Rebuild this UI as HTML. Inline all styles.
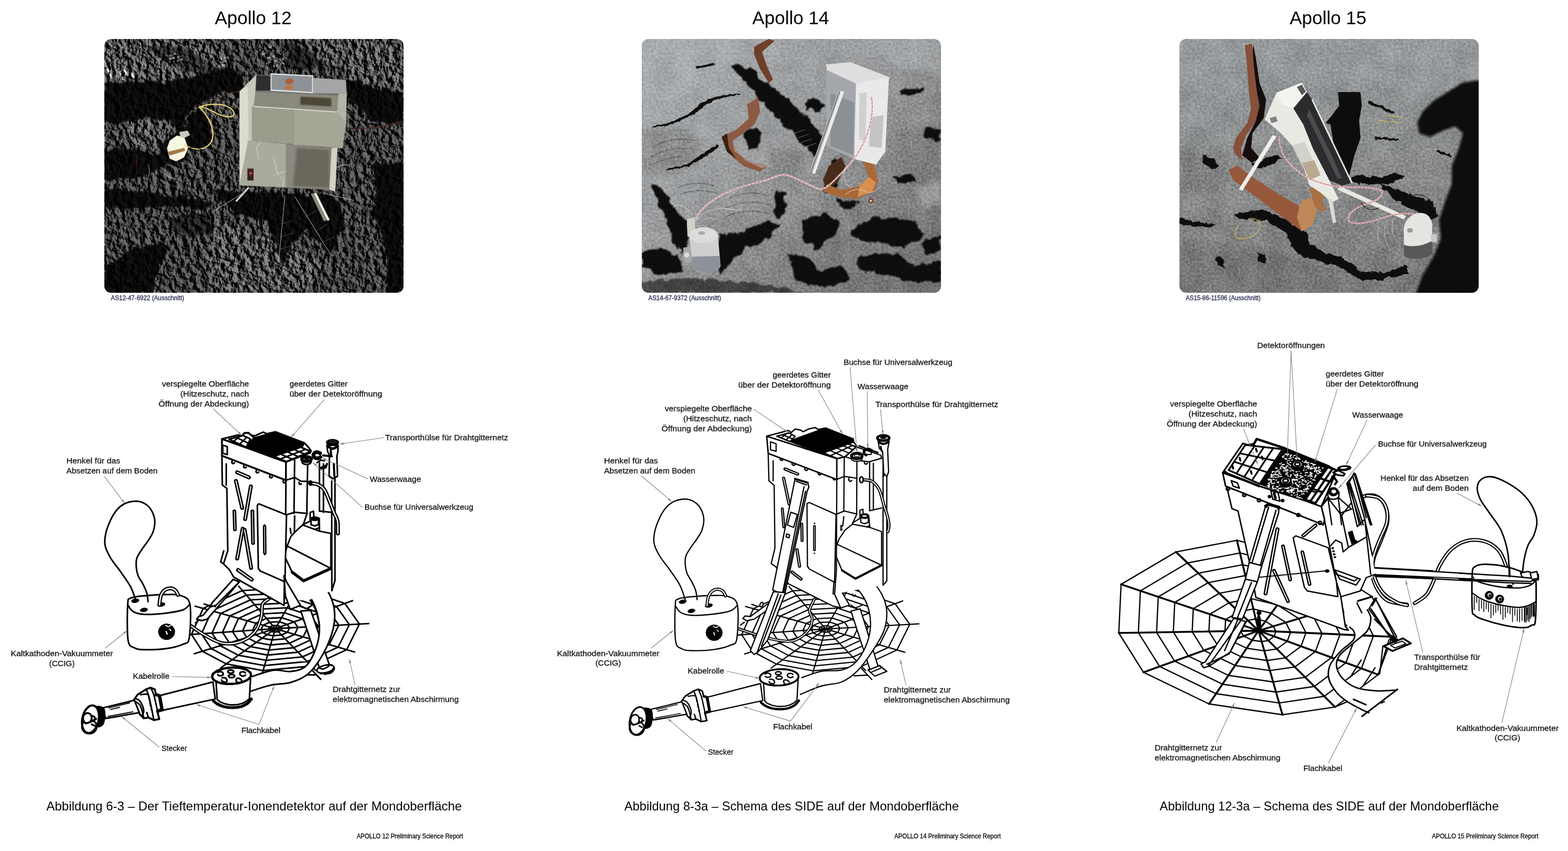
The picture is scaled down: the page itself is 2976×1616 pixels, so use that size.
<!DOCTYPE html>
<html lang="de"><head><meta charset="utf-8"><title>SIDE – Apollo 12, 14, 15</title>
<style>
html,body{margin:0;padding:0;background:#fff;}
body{width:2976px;height:1616px;overflow:hidden;font-family:"Liberation Sans",sans-serif;}
svg{display:block;}
svg text{font-family:"Liberation Sans",sans-serif;}
</style></head><body>
<svg width="2976" height="1616" viewBox="0 0 2976 1616">
<rect width="2976" height="1616" fill="#fff"/>
<defs>
<filter id="soilA" x="0" y="0" width="100%" height="100%" color-interpolation-filters="sRGB">
  <feTurbulence type="fractalNoise" baseFrequency="0.085" numOctaves="4" seed="7" result="n1"/>
  <feDiffuseLighting in="n1" surfaceScale="5.5" diffuseConstant="1.2" lighting-color="#ffffff" result="l"><feDistantLight azimuth="160" elevation="26"/></feDiffuseLighting>
  <feColorMatrix in="l" type="matrix" values="1.15 0 0 0 -0.06  1.15 0 0 0 -0.06  1.15 0 0 0 -0.06  0 0 0 0 1"/>
</filter>
<filter id="soilB" x="0" y="0" width="100%" height="100%" color-interpolation-filters="sRGB">
  <feTurbulence type="fractalNoise" baseFrequency="0.22" numOctaves="2" seed="23" result="n1"/>
  <feColorMatrix in="n1" type="matrix" values="0.3 0 0 0 0.35  0.3 0 0 0 0.35  0.3 0 0 0 0.35  0 0 0 0 1" result="g1"/>
  <feTurbulence type="fractalNoise" baseFrequency="0.025" numOctaves="3" seed="5" result="n2"/>
  <feColorMatrix in="n2" type="matrix" values="0 0.14 0 0 0.43  0 0.14 0 0 0.43  0 0.14 0 0 0.43  0 0 0 0 1" result="g2"/>
  <feBlend in="g1" in2="g2" mode="overlay" result="b"/>
  <feGaussianBlur in="b" stdDeviation="0.7"/>
</filter>
<filter id="bl3" x="-10%" y="-10%" width="120%" height="120%"><feGaussianBlur stdDeviation="3"/></filter>
<filter id="bl6" x="-10%" y="-10%" width="120%" height="120%"><feGaussianBlur stdDeviation="6"/></filter>
<filter id="bl12" x="-20%" y="-20%" width="140%" height="140%"><feGaussianBlur stdDeviation="12"/></filter>
<filter id="bl1" x="-10%" y="-10%" width="120%" height="120%"><feGaussianBlur stdDeviation="1.2"/></filter>
<clipPath id="pc1"><rect x="198" y="74" width="568" height="482" rx="13"/></clipPath>
<clipPath id="pc2"><rect x="1218" y="74" width="568" height="482" rx="13"/></clipPath>
<clipPath id="pc3"><rect x="2238.5" y="74" width="568" height="482" rx="13"/></clipPath>
<filter id="rough" x="-5%" y="-5%" width="110%" height="110%">
  <feTurbulence type="fractalNoise" baseFrequency="0.02" numOctaves="3" seed="3" result="t"/>
  <feDisplacementMap in="SourceGraphic" in2="t" scale="45" xChannelSelector="R" yChannelSelector="G" result="d"/>
  <feGaussianBlur in="d" stdDeviation="2.5"/>
</filter>
<filter id="rough2" x="-5%" y="-5%" width="110%" height="110%">
  <feTurbulence type="fractalNoise" baseFrequency="0.03" numOctaves="3" seed="9" result="t"/>
  <feDisplacementMap in="SourceGraphic" in2="t" scale="30" xChannelSelector="R" yChannelSelector="G" result="d"/>
  <feGaussianBlur in="d" stdDeviation="1.5"/>
</filter>
<filter id="rough3" x="-5%" y="-5%" width="110%" height="110%">
  <feTurbulence type="fractalNoise" baseFrequency="0.04" numOctaves="2" seed="5" result="t"/>
  <feDisplacementMap in="SourceGraphic" in2="t" scale="14" xChannelSelector="R" yChannelSelector="G" result="d"/>
  <feGaussianBlur in="d" stdDeviation="1.2"/>
</filter>
</defs>

<g clip-path="url(#pc1)" style="isolation:isolate"><g transform="translate(198,74) scale(0.34453)">
<rect width="1649" height="1399" fill="#363636"/>
<!-- lighter soil zones -->
<g filter="url(#bl12)" fill="#454545">
<polygon points="0,0 560,0 700,120 640,160 480,210 330,235 180,222 0,240"/>
<polygon points="1100,0 1649,0 1649,280 1500,260 1340,220 1330,160 1150,120"/>
<polygon points="150,450 340,440 360,520 330,580 200,610 100,560"/>
<polygon points="600,1000 1000,1100 1200,1250 1100,1399 600,1399 560,1200"/>
</g>
<!-- shadows -->
<g filter="url(#rough)" fill="#060606" opacity="0.82">
<polygon points="0,245 190,228 350,242 500,205 660,162 720,170 760,220 760,300 640,292 560,340 500,362 430,480 330,440 180,440 60,470 0,450"/>
<polygon points="430,480 520,380 560,420 600,520 560,600 470,610 440,680 330,690 300,640 340,560"/>
<polygon points="0,600 150,612 300,642 340,702 200,762 0,782"/>
<polygon points="0,830 293,848 505,880 600,910 557,940 293,925 0,935"/>
<polygon points="0,1245 160,1160 320,1120 350,1160 295,1265 270,1399 0,1399"/>
<polygon points="1338,224 1527,272 1649,293 1649,451 1580,477 1475,451 1338,335"/>
<polygon points="1475,685 1649,685 1649,1399 1553,1399 1553,1213 1527,1054 1475,949 1500,842"/>
<polygon points="600,830 1250,860 1300,900 1320,1030 1240,1190 1106,1054 974,1239 900,1001 700,949"/>
<polygon points="230,40 420,30 560,120 640,170 560,200 420,150 300,110" opacity="0.55"/>
<polygon points="1000,20 1150,60 1200,150 1060,180 1010,120" opacity="0.6"/>
<polygon points="350,980 560,960 620,1040 500,1090 380,1060" opacity="0.6"/>
</g>
<!-- footprints -->
<g stroke="#9a9a9a" stroke-width="9" stroke-linecap="round" opacity="0.8">
<path d="M10,150L40,215M40,160L75,222M75,165L105,225M110,170L135,222M140,175L165,215M0,130L20,150"/>
</g>
<g stroke="#777" stroke-width="6" stroke-linecap="round" opacity="0.8">
<path d="M600,125L660,105M610,140L670,120M620,155L680,135M860,60L930,40M870,85L950,60M880,110L970,85M890,135L985,110M900,160L990,135M340,95L400,80M360,110L420,95M380,125L440,110"/>
</g>
</g><rect x="198" y="74" width="568" height="482" filter="url(#soilA)" style="mix-blend-mode:overlay"/><g transform="translate(198,74) scale(0.34453)">
<!-- ribbon cable right -->
<path d="M1330,492 C1450,500 1560,480 1649,452" stroke="#3a2626" stroke-width="7" fill="none"/>
<path d="M1400,492 C1480,495 1580,475 1649,447" stroke="#7a3a30" stroke-width="2" fill="none"/>
<!-- legs and struts -->
<path d="M792,822L728,892" stroke="#dcdccc" stroke-width="10" stroke-linecap="round"/>
<path d="M1150,850L1222,1000" stroke="#8a8a7a" stroke-width="26" stroke-linecap="butt"/>
<path d="M1162,850L1236,1000" stroke="#f4f8e8" stroke-width="12" stroke-linecap="butt"/>
<g stroke="#b5b5a8" stroke-width="3" fill="none">
<path d="M995,862L960,1232M1050,870L1245,1185M1205,850L1375,890M780,840L600,950"/>
</g>
<g stroke="#8a8a80" stroke-width="1.6" fill="none">
<path d="M975,1020L1040,1000M968,1090L1040,1070M962,1160L1030,1140M1110,980L1180,940M1160,1060L1230,1020M1200,1120L1270,1090M1280,700L1330,690L1350,730M1300,760L1380,840"/>
</g>
<!-- box -->
<polygon points="745,288 838,196 842,290 792,810 745,806" fill="#c8c8b8"/>
<polygon points="745,288 790,260 795,560 780,806 745,806" fill="#dcdcce"/>
<polygon points="838,196 1330,225 1336,300 1290,310 832,290" fill="#6e7072"/>
<polygon points="838,200 915,204 915,284 834,284" fill="#2e2e2e"/>
<polygon points="1150,214 1330,226 1334,300 1150,300" fill="#a4a6a6"/>
<polygon points="916,188 1150,200 1150,300 916,286" fill="#e0e0e0"/>
<polygon points="922,196 1144,207 1144,292 922,278" fill="#8c9296"/>
<ellipse cx="1020" cy="234" rx="24" ry="17" fill="#a8643c"/>
<ellipse cx="1018" cy="268" rx="24" ry="14" fill="#b87850"/>
<polygon points="832,290 1290,310 1290,402 822,372" fill="#8a8a7c"/>
<polygon points="1080,318 1250,326 1250,372 1080,362" fill="#4e4638" filter="url(#bl3)"/>
<polygon points="1290,300 1336,300 1332,462 1282,402" fill="#b4b4a6"/>
<polygon points="792,560 1252,600 1256,832 745,806" fill="#8a8a80"/>
<polygon points="792,560 1000,578 1000,818 745,806" fill="#aaaa9e"/>
<polygon points="1060,600 1240,610 1240,820 1040,810" fill="#6a665c" filter="url(#bl6)"/>
<polygon points="1252,600 1284,600 1272,842 1240,830" fill="#d2d2c4"/>
<polygon points="812,370 1282,400 1332,462 1312,602 812,562" fill="#9c9c8c"/>
<polygon points="1040,386 1282,400 1332,462 1312,602 1040,582" fill="#a6a696"/>
<path d="M822,372L1282,402" stroke="#d8d8cc" stroke-width="6"/>
<path d="M1040,386L1040,582" stroke="#8a8a7c" stroke-width="2"/>
<rect x="788" y="714" width="34" height="66" fill="#3a2222"/>
<circle cx="806" cy="740" r="8" fill="#d04030"/>
<!-- curly white wires -->
<g stroke="#e8e8e0" stroke-width="2.6" fill="none" stroke-linecap="round">
<path d="M860,565 C850,590 830,600 840,615 C850,640 835,650 855,660"/>
<path d="M930,660 C950,690 940,720 960,750 C980,780 990,760 985,800 C980,830 975,850 985,870"/>
<path d="M940,750 C960,730 980,745 1000,725"/>
<path d="M1270,720 C1290,700 1310,690 1340,695"/>
</g>
<!-- CCIG -->
<polygon points="345,602 360,560 400,532 440,540 462,600 440,652 400,676 360,660" fill="#f6f6e2"/>
<polygon points="412,512 460,505 472,530 440,546 420,540" fill="#c8c8c0"/>
<polygon points="350,622 440,600 446,616 360,642" fill="#a07848"/>
<!-- cables -->
<path d="M522,376 C600,330 680,300 745,286" stroke="#5a4030" stroke-width="4" fill="none"/>
<path d="M522,376 C580,352 680,350 712,400 C730,440 660,436 600,400 C570,384 540,372 522,376 C560,410 600,470 598,530 C596,590 540,620 480,600 C460,596 450,590 440,585" stroke="#f2dc78" stroke-width="6.5" fill="none" stroke-linecap="round"/>
<path d="M240,692 C252,720 250,745 240,765 M310,720 C330,750 370,768 400,772" stroke="#ddd" stroke-width="2.4" fill="none"/>
<path d="M186,640 C176,680 174,720 178,745" stroke="#8a2a18" stroke-width="2.4" fill="none"/>
<path d="M460,600 C520,590 580,620 590,680 C595,740 520,790 440,790 M330,690 C400,680 440,660 470,630" stroke="#0a0a0a" stroke-width="3" fill="none"/>
</g></g>

<g clip-path="url(#pc2)" style="isolation:isolate"><g transform="translate(1218,74) scale(0.34453)">
<linearGradient id="p2g" gradientUnits="userSpaceOnUse" x1="200" y1="0" x2="1300" y2="1399"><stop offset="0" stop-color="#a8abad"/><stop offset="0.45" stop-color="#989a9c"/><stop offset="0.75" stop-color="#848484"/><stop offset="1" stop-color="#747474"/></linearGradient>
<rect width="1649" height="1399" fill="url(#p2g)"/>
<g filter="url(#bl12)" fill="#707070" opacity="0.35">
<polygon points="0,500 200,480 330,560 300,700 150,760 0,740"/>
<polygon points="700,600 900,640 860,760 700,740"/>
<polygon points="1400,500 1649,480 1649,760 1450,720"/>
</g>
<g filter="url(#bl12)" fill="#a8abad" opacity="0.6">
<polygon points="0,0 500,0 450,200 200,330 0,300"/>
<polygon points="1200,0 1649,0 1649,200 1400,150"/>
<polygon points="1500,820 1649,780 1649,900 1560,940"/>
</g>
<!-- shadows -->
<g filter="url(#rough)" fill="#0b0b0b">
<polygon points="490,145 600,150 640,205 720,260 800,330 900,420 960,490 1010,545 1005,600 950,650 880,570 800,490 700,390 620,295 540,205"/>
<polygon points="900,350 960,325 1005,365 960,400 905,392"/>
<polygon points="50,800 110,830 160,900 200,960 250,1000 262,1130 222,1185 170,1105 140,1005 90,905"/>
<polygon points="1012,760 1070,650 1110,680 1090,780 1050,850 1000,840"/>
<polygon points="430,1080 560,1060 700,1000 762,1020 700,1100 560,1160 470,1250 430,1300 400,1200"/>
<polygon points="730,830 800,850 790,960 760,1000 730,950"/>
<polygon points="880,1000 1000,960 1100,1020 1040,1100 960,1160 880,1100"/>
<polygon points="1150,1050 1300,982 1500,1000 1560,1080 1450,1150 1300,1120 1200,1112"/>
<polygon points="800,1180 900,1200 1000,1280 1100,1250 1150,1320 1000,1380 850,1330"/>
<polygon points="1180,1200 1400,1180 1500,1250 1649,1220 1649,1330 1500,1340 1350,1300 1200,1280"/>
<polygon points="0,1180 100,1150 200,1200 230,1280 100,1300 0,1262"/>
<polygon points="0,1335 300,1322 600,1342 900,1399 0,1399" opacity="0.6"/>
<polygon points="1420,282 1500,262 1560,280 1500,310 1432,310"/>
<polygon points="1560,490 1649,500 1649,560 1560,540"/>
<polygon points="1380,760 1480,742 1520,780 1420,800"/>
<polygon points="560,520 620,480 660,520 640,600 590,610"/>
<polygon points="1080,880 1200,900 1180,940 1090,920"/>
<polygon points="1540,1120 1649,1080 1649,1160 1560,1180"/>
</g>
<g filter="url(#rough3)" fill="#101010"><polygon points="130,716 250,694 330,634 420,580 428,592 350,648 262,700 150,722"/><polygon points="60,482 150,464 260,412 330,352 400,320 540,298 540,304 420,330 350,366 282,418 170,470 70,488"/><polygon points="300,152 400,134 404,144 306,164"/></g>
<!-- footprint ridges -->
<g stroke="#5e5e5e" stroke-width="5" fill="none" opacity="0.7" filter="url(#bl1)">
<path d="M60,600 C120,560 200,540 290,560 M50,650 C120,610 200,590 300,610 M40,700 C100,670 160,650 220,650 M200,820 C260,790 330,790 400,810 M210,860 C270,830 340,830 420,850 M480,880 C560,840 640,840 700,870 M470,930 C560,890 640,890 720,920 M460,980 C560,940 640,940 720,970"/>
</g>
</g>
<rect x="1218" y="74" width="568" height="482" filter="url(#soilB)" style="mix-blend-mode:overlay"/>
<g transform="translate(1218,74) scale(0.34453)">
<!-- kapton ribbons -->
<polygon points="620,42 700,0 732,10 662,72 690,150 722,222 700,242 650,162 618,82" fill="#6e4028"/>
<polygon points="580,362 640,320 652,400 622,470 560,520 500,560 512,620 600,680 692,700 650,732 560,700 470,622 440,540 520,500 590,440" fill="#8c5a42"/>
<polygon points="500,560 512,620 600,680 692,700 660,712 570,670 520,610" fill="#b08878"/>
<polygon points="440,540 470,520 480,600 520,660 470,622" fill="#3a2010"/>
<polygon points="1030,700 1100,650 1122,700 1080,790 1020,832 1000,780" fill="#4a2a18"/>
<polygon points="1180,600 1232,620 1282,700 1302,780 1280,842 1180,882 1090,872 1000,842 1020,800 1100,832 1200,812 1250,760 1220,680" fill="#a86838"/>
<polygon points="1200,812 1250,760 1290,790 1270,840 1190,870" fill="#d89050"/>
<!-- box -->
<polygon points="1015,140 1150,128 1362,210 1240,242 1180,246 1020,172" fill="#dedede"/>
<polygon points="1015,170 1180,246 1170,662 1020,592" fill="#a4a8ac"/>
<polygon points="1040,300 1170,350 1165,640 1040,590" fill="#8a9094"/>
<polygon points="1180,246 1362,210 1342,622 1290,692 1170,662" fill="#e9e9e9"/>
<polygon points="1262,430 1332,420 1322,600 1252,592" fill="#c4c4c4"/>
<polygon points="1200,300 1240,294 1232,560 1196,556" fill="#d0d0d0"/>
<polygon points="1085,282 1115,290 955,742 922,736" fill="#b4b4b4"/>
<polygon points="1098,286 1115,290 955,742 940,740" fill="#ececec"/>
<path d="M930,740L1090,290" stroke="#555" stroke-width="3"/>
<!-- antenna wires in shadow -->
<g stroke="#9a9a9a" stroke-width="2"><path d="M840,520L900,500M860,545L920,525M880,570L940,550M900,595L960,575M1000,640L1060,620"/></g>
<!-- cable bundle -->
<path d="M292,1000 C310,950 380,890 440,860 C520,820 600,800 660,785 C720,770 760,740 800,750 C860,765 920,810 980,828 C1020,830 1060,780 1100,740 C1160,680 1220,600 1250,500 C1270,430 1275,370 1265,320" stroke="#e6ccd2" stroke-width="9" fill="none" stroke-linecap="round"/>
<path d="M292,1000 C310,950 380,890 440,860 C520,820 600,800 660,785 C720,770 760,740 800,750 C860,765 920,810 980,828 C1020,830 1060,780 1100,740 C1160,680 1220,600 1250,500 C1270,430 1275,370 1265,320" stroke="#c04858" stroke-width="2.5" fill="none" stroke-dasharray="14 8"/>
<g stroke="#e8e8e8" stroke-width="2.4" fill="none">
<path d="M170,930 C200,900 240,920 280,970 M300,1000 C340,950 400,930 460,935 C500,940 530,950 550,935 M330,1010 C350,980 380,980 400,1000 M1120,860 C1150,830 1200,820 1230,840 C1260,860 1300,830 1320,810 M1130,700 C1100,740 1110,790 1150,820"/>
</g>
<circle cx="1262" cy="892" r="14" fill="#7a3a30"/><circle cx="1262" cy="892" r="7" fill="#c8c0b0"/>
<!-- CCIG -->
<polygon points="248,990 292,985 296,1085 252,1090" fill="#d0d0c8"/>
<polygon points="228,1150 272,1146 272,1232 232,1234" fill="#a8a8a8"/>
<circle cx="248" cy="1190" r="14" fill="#ddd"/>
<path d="M262,1092 C262,1040 420,1030 420,1085 L434,1250 C430,1292 290,1296 282,1258 Z" fill="#cfcfcf"/>
<path d="M276,1200 L430,1196 L434,1250 C430,1292 290,1296 282,1258 Z" fill="#8c929a"/>
<ellipse cx="341" cy="1082" rx="79" ry="44" fill="#dcdcdc"/>
<ellipse cx="330" cy="1070" rx="20" ry="10" fill="#aaa"/>
</g></g>

<g clip-path="url(#pc3)" style="isolation:isolate"><g transform="translate(2238.5,74) scale(0.34453)">
<linearGradient id="p3g" gradientUnits="userSpaceOnUse" x1="600" y1="0" x2="800" y2="1399"><stop offset="0" stop-color="#969a9c"/><stop offset="0.5" stop-color="#8a8c8d"/><stop offset="1" stop-color="#7a7a7a"/></linearGradient>
<rect width="1649" height="1399" fill="url(#p3g)"/>
<g filter="url(#bl12)" opacity="0.6">
<polygon points="0,0 300,0 250,250 0,300" fill="#9a9ea0"/>
<polygon points="900,0 1649,0 1649,260 1300,300 1000,200" fill="#9a9ea0"/>
<polygon points="0,1100 500,1150 900,1330 900,1399 0,1399" fill="#727272"/>
<polygon points="0,600 250,620 300,800 0,900" fill="#7c7c7c"/>
</g>
<g filter="url(#rough2)" fill="#0b0b0b">
<polygon points="0,992 80,1002 200,1022 180,1040 60,1030 0,1020"/>
<polygon points="300,962 450,942 560,982 700,1062 720,1132 800,1182 900,1202 1000,1282 1100,1292 1250,1252 1262,1290 1100,1332 980,1322 880,1252 780,1232 680,1202 620,1142 580,1062 480,1002 320,990"/>
<polygon points="950,752 1100,762 1200,740 1242,760 1150,800 1050,802 960,790"/>
<polygon points="1100,800 1200,830 1300,870 1400,900 1422,980 1380,1002 1300,952 1180,880"/>
<polygon points="120,642 180,650 222,700 180,722 130,680"/>
<polygon points="400,690 520,640 570,660 450,720"/>
<polygon points="1040,345 1120,372 1180,402 1170,412 1110,385 1040,358"/>
<polygon points="1080,540 1200,548 1200,560 1080,552"/>
<polygon points="1420,612 1500,640 1496,652 1420,626"/>
<polygon points="200,1200 240,1210 250,1260 210,1250"/>
<polygon points="430,1180 470,1190 480,1240 440,1230"/>
</g>
</g>
<rect x="2238" y="74" width="569" height="482" filter="url(#soilB)" style="mix-blend-mode:overlay"/>
<g transform="translate(2238.5,74) scale(0.34453)">
<!-- kapton -->
<g transform="translate(236.6,162.5) scale(0.6846)">
<polygon points="250,-190 270,-80 300,120 352,250 332,400 242,520 232,640 300,720 240,760 160,700 200,560 270,420 290,300 250,150 240,20 235,-100" fill="#141008" filter="url(#bl1)"/>
<polygon points="180,-185 240,-200 250,-60 262,60 280,200 300,300 270,420 190,540 150,640 160,740 110,700 85,640 110,560 200,440 230,330 215,200 205,80 195,-60" fill="#86503a"/>
<polygon points="50,820 120,780 250,880 450,1010 620,1110 642,1060 722,1040 762,1150 722,1262 640,1312 560,1252 400,1132 200,982 90,902" fill="#96583a"/>
<polygon points="620,1110 642,1060 722,1040 762,1150 722,1262 640,1312 600,1200" fill="#c08858"/>
<polygon points="700,960 800,940 830,1000 800,1080 840,1130 800,1160 740,1100 720,1020" fill="#a87044"/>
</g>
<!-- box -->
<g transform="translate(236.6,162.5) scale(0.6846)">
<polygon points="930,190 1110,190 1122,300 1100,420 1112,560 1062,700 1022,862 960,832 900,640 870,450 830,440 880,380 940,300" fill="#0b0b0b" filter="url(#bl3)"/>
<polygon points="680,190 722,250 802,430 902,640 1012,850 1042,922 962,942 862,902 732,652 652,452 572,322" fill="#2c2c2e"/>
<polygon points="700,330 790,520 880,700 960,880 930,892 850,730 760,540 680,380" fill="#4c4c50"/>
<path d="M722,250 L1042,922" stroke="#e8e8e4" stroke-width="12"/>
<polygon points="340,410 435,195 640,115 680,190 570,320 650,450 730,650 860,900 935,1050 880,1080 790,1000 700,940 640,760 560,620 470,520" fill="#e9e9e4"/>
<polygon points="435,195 640,115 680,190 570,320 480,290" fill="#f3f3ef"/>
<polygon points="600,150 640,130 672,188 640,215" fill="#585858"/>
<polygon points="380,400 430,385 445,425 395,440" fill="#7c8488"/>
<polygon points="560,620 660,590 740,760 650,800" fill="#d2d2ca"/>
<polygon points="640,760 740,740 790,860 700,900" fill="#bca890"/>
<polygon points="405,535 435,548 160,985 132,972" fill="#efefeb"/>
<polygon points="925,975 948,948 1478,1188 1458,1216" fill="#e8e8e0"/>
<polygon points="850,1050 885,1046 915,1240 890,1246" fill="#dcdcd6"/>
</g>
<!-- cable bundle -->
<path d="M550,540 C545,600 580,670 640,720 C700,770 780,800 860,812 C940,822 1040,810 1100,830 C1140,850 1100,890 1040,905 C980,925 920,960 932,1000 C950,1030 1040,1015 1100,992 C1160,970 1230,955 1290,965" stroke="#e4c0c6" stroke-width="8" fill="none" stroke-linecap="round"/>
<path d="M550,540 C545,600 580,670 640,720 C700,770 780,800 860,812 C940,822 1040,810 1100,830 C1140,850 1100,890 1040,905 C980,925 920,960 932,1000 C950,1030 1040,1015 1100,992 C1160,970 1230,955 1290,965" stroke="#b84050" stroke-width="2.4" fill="none" stroke-dasharray="12 8"/>
<g stroke="#c8d0e0" stroke-width="2.2" fill="none">
<path d="M1140,1000 C1120,1060 1130,1120 1160,1160 M1180,990 C1160,1050 1180,1110 1220,1130 M1100,1040 C1080,1080 1100,1120 1130,1150"/>
</g>
<g stroke="#101010" stroke-width="3" fill="none">
<path d="M1250,880 C1300,840 1380,860 1400,920 M1000,900 C1020,940 1060,950 1100,930"/>
</g>
<!-- CCIG -->
<path d="M1236,1060 C1230,1000 1290,950 1340,960 C1380,965 1400,1010 1392,1060 L1396,1180 C1380,1215 1260,1225 1238,1195 Z" fill="#e4e4e0"/>
<path d="M1236,1135 C1280,1150 1350,1140 1394,1110 L1396,1180 C1380,1215 1260,1225 1238,1195 Z" fill="#585858"/>
<rect x="1385" y="1075" width="34" height="44" fill="#c8c8c8"/>
<ellipse cx="1270" cy="1055" rx="16" ry="12" fill="#9a9a9a"/>
<!-- yellow wires -->
<g stroke="#e6c63c" stroke-width="3.2" fill="none" stroke-linecap="round">
<path d="M380,992 C410,980 440,1000 446,1022 C452,1060 410,1095 340,1102 C300,1102 302,1062 322,1030"/>
<path d="M1100,448 C1140,452 1180,462 1220,458 M1140,420 C1170,424 1200,430 1230,432"/>
</g>
<!-- astronaut silhouette -->
<g filter="url(#bl6)"><polygon points="1660,225 1560,240 1480,290 1400,340 1340,400 1310,460 1322,520 1380,540 1460,502 1520,482 1562,520 1540,600 1500,700 1500,800 1462,900 1430,1000 1440,1100 1400,1200 1340,1300 1300,1410 1660,1410" fill="#080808"/></g>
</g></g>

<g stroke-linecap="round" stroke-linejoin="round">
<path d="M522.6,1193.8L699.8,1184.1M522.6,1193.8L672.9,1238.1M522.6,1193.8L598.5,1272.6M522.6,1193.8L496.7,1282.2M522.6,1193.8L419.2,1268.1M522.6,1193.8L368.8,1241.3M522.6,1193.8L345.8,1206.0M522.6,1193.8L370.4,1151.1M522.6,1193.8L453.2,1113.4M522.6,1193.8L571.6,1107.5M522.6,1193.8L669.0,1140.6M535.4,1193.1L533.4,1197.0L528.1,1199.5L520.7,1200.2L515.1,1199.2L511.5,1197.2L509.9,1194.7L511.6,1190.7L517.6,1188.0L526.1,1187.6L533.1,1190.0ZM549.7,1192.3L545.6,1200.6L534.2,1205.9L518.6,1207.3L506.8,1205.2L499.0,1201.1L495.5,1195.7L499.3,1187.3L512.0,1181.5L530.1,1180.6L545.0,1185.6ZM565.7,1191.4L559.2,1204.6L541.1,1213.0L516.3,1215.3L497.5,1211.9L485.2,1205.3L479.6,1196.8L485.6,1183.4L505.7,1174.3L534.5,1172.8L558.2,1180.9ZM584.8,1190.4L575.4,1209.4L549.3,1221.5L513.5,1224.8L486.3,1219.9L468.6,1210.5L460.5,1198.1L469.1,1178.8L498.2,1165.6L539.8,1163.5L574.0,1175.1ZM604.0,1189.3L591.6,1214.2L557.5,1230.0L510.7,1234.4L475.1,1227.9L451.9,1215.6L441.4,1199.4L452.7,1174.2L490.7,1156.9L545.1,1154.1L589.8,1169.3ZM623.2,1188.3L607.9,1219.0L565.7,1238.5L507.9,1244.0L463.9,1236.0L435.3,1220.7L422.3,1200.7L436.2,1169.6L483.2,1148.2L550.4,1144.8L605.7,1163.6ZM643.1,1187.2L624.8,1223.9L574.2,1247.4L505.0,1253.9L452.3,1244.3L418.0,1226.1L402.4,1202.1L419.1,1164.8L475.4,1139.1L555.9,1135.1L622.2,1157.6ZM663.1,1186.1L641.7,1228.9L582.8,1256.2L502.0,1263.9L440.6,1252.7L400.7,1231.4L382.5,1203.5L401.9,1160.0L467.6,1130.1L561.4,1125.4L638.6,1151.6ZM682.2,1185.0L658.0,1233.7L591.0,1264.8L499.2,1273.4L429.5,1260.7L384.0,1236.6L363.4,1204.8L385.5,1155.3L460.1,1121.4L566.7,1116.0L654.5,1145.9Z" fill="none" stroke="#000" stroke-width="2.90"/>
<path d="M361.5,1187.9C365.5,1190.6 375.3,1198.5 385.1,1204.0C394.9,1209.5 408.7,1218.5 420.5,1221.0C432.3,1223.4 445.3,1222.2 455.9,1218.6C466.5,1215.0 477.5,1207.2 484.2,1199.3C490.9,1191.3 493.6,1179.6 496.0,1171.0C498.3,1162.3 496.2,1152.9 498.3,1147.4C500.5,1141.9 507.2,1139.5 509.0,1137.9" fill="none" stroke="#000" stroke-width="7.00" />
<path d="M361.5,1187.9C365.5,1190.6 375.3,1198.5 385.1,1204.0C394.9,1209.5 408.7,1218.5 420.5,1221.0C432.3,1223.4 445.3,1222.2 455.9,1218.6C466.5,1215.0 477.5,1207.2 484.2,1199.3C490.9,1191.3 493.6,1179.6 496.0,1171.0C498.3,1162.3 496.2,1152.9 498.3,1147.4C500.5,1141.9 507.2,1139.5 509.0,1137.9" fill="none" stroke="#fff" stroke-width="2.20" />
<path d="M442.9,1100.2L385.1,1168.6L376.9,1171.0L373.3,1175.7L382.8,1178.5L393.4,1175.7L452.3,1107.3Z" fill="#fff" stroke="#000" stroke-width="3.00" />
<path d="M406.3,1148.6L408.7,1152.1" fill="none" stroke="#000" stroke-width="3.00" />
<path d="M387.5,1146.9L396.9,1150.2M371.0,1182.8L375.7,1179.2" fill="none" stroke="#000" stroke-width="3.00" />
<path d="M442.5,1100.3L402.4,1145.1L400.0,1152.2L409.4,1149.8L454.3,1105.0Z" fill="#fff" stroke="#000" stroke-width="3.00" />
<path d="M571.0,1160.2L606.3,1268.7L601.6,1273.4L608.7,1279.3L622.9,1276.9L633.5,1269.8L629.9,1262.8L625.2,1262.8L589.8,1159.0Z" fill="#fff" stroke="#000" stroke-width="3.00" />
<ellipse cx="617.7" cy="1270.3" rx="16.5" ry="7.1" fill="#fff" stroke="#000" stroke-width="3.00" transform="rotate(-12 617.7 1270.3)"/>
<path d="M606.3,1268.7C607.5,1268.9 610.5,1270.9 613.4,1270.3C616.4,1269.7 622.3,1266.0 624.0,1265.1" fill="none" stroke="#000" stroke-width="3.00" />
<path d="M585.1,1265.1L608.7,1289.9M574.5,1281.6L599.3,1281.6" fill="none" stroke="#000" stroke-width="3.00" />
<path d="M615.8,1279.3C617.7,1278.9 624.6,1278.5 627.6,1276.9C630.5,1275.3 632.5,1271.0 633.5,1269.8" fill="none" stroke="#000" stroke-width="5.00" />
<path d="M542.7,1104.7C545.8,1106.3 554.5,1109.0 561.5,1114.2C568.6,1119.3 578.8,1127.9 585.1,1135.4C591.4,1142.9 595.7,1149.1 599.3,1159.0C602.8,1168.8 606.3,1182.2 606.3,1194.4C606.3,1206.5 603.6,1220.3 599.3,1232.1C594.9,1243.9 588.3,1258.0 580.4,1265.1C572.5,1272.3 562.3,1273.8 552.1,1275.0C541.9,1276.3 531.3,1271.1 519.1,1272.7C506.9,1274.2 485.7,1282.5 479.0,1284.5L476.6,1312.3C482.9,1310.4 501.8,1303.7 514.4,1301.0C526.9,1298.2 540.3,1299.4 552.1,1295.8C563.9,1292.2 574.9,1288.3 585.1,1279.3C595.3,1270.2 605.6,1255.7 613.4,1241.5C621.3,1227.4 628.8,1208.1 632.3,1194.4C635.8,1180.6 635.8,1170.0 634.7,1159.0C633.5,1148.0 629.5,1137.0 625.2,1128.3C620.9,1119.7 613.8,1112.2 608.7,1107.1C603.6,1102.0 596.9,1099.2 594.6,1097.6Z" fill="#fff" stroke="none"/>
<path d="M542.7,1104.7C545.8,1106.3 554.5,1109.0 561.5,1114.2C568.6,1119.3 578.8,1127.9 585.1,1135.4C591.4,1142.9 595.7,1149.1 599.3,1159.0C602.8,1168.8 606.3,1182.2 606.3,1194.4C606.3,1206.5 603.6,1220.3 599.3,1232.1C594.9,1243.9 588.3,1258.0 580.4,1265.1C572.5,1272.3 562.3,1273.8 552.1,1275.0C541.9,1276.3 531.3,1271.1 519.1,1272.7C506.9,1274.2 485.7,1282.5 479.0,1284.5" fill="none" stroke="#000" stroke-width="3.00" />
<path d="M476.6,1312.3C482.9,1310.4 501.8,1303.7 514.4,1301.0C526.9,1298.2 540.3,1299.4 552.1,1295.8C563.9,1292.2 574.9,1288.3 585.1,1279.3C595.3,1270.2 605.6,1255.7 613.4,1241.5C621.3,1227.4 628.8,1208.1 632.3,1194.4C635.8,1180.6 635.8,1170.0 634.7,1159.0C633.5,1148.0 629.5,1137.0 625.2,1128.3C620.9,1119.7 613.8,1112.2 608.7,1107.1C603.6,1102.0 596.9,1099.2 594.6,1097.6" fill="none" stroke="#000" stroke-width="3.00" />
<path d="M543.9,1105.0C547.4,1106.2 558.0,1107.8 565.1,1112.1C572.2,1116.4 580.5,1123.1 586.3,1131.0C592.2,1138.8 597.2,1149.8 600.5,1159.3C603.8,1168.7 605.4,1182.9 606.4,1187.6" fill="none" stroke="#000" stroke-width="3.00" />
<path d="M542.7,877.2L588.7,860.0L590.3,856.0L599.3,860.7L627.6,869.0L629.9,913.8L629.9,1121.4L585.1,1140.0L542.7,1140.0Z" fill="#fff" stroke="none" stroke-width="2.60" />
<path d="M559.2,873.7L558.0,975.1M583.9,880.8L582.3,975.1M606.3,878.4L606.3,970.4M613.9,880.8L613.9,972.8M629.5,913.8L629.9,1121.4M635.8,909.1L635.8,1102.5M559.2,979.8L558.0,1055.3" fill="none" stroke="#000" stroke-width="3.00" />
<path d="M542.7,911.9L559.6,906.7M559.6,906.7L571.0,913.8L585.1,914.3M542.7,977.9L559.2,972.8L582.8,975.1M582.8,975.1L575.7,996.3M606.3,970.4L627.6,972.8M629.9,1121.4L635.8,1102.5" fill="none" stroke="#000" stroke-width="3.00" />
<path d="M567.4,916.1L568.6,919.7L572.1,919.0M550.9,1003.4L552.1,1012.9" fill="none" stroke="#000" stroke-width="3.00" />
<path d="M620.5,845.4L621.7,857.2L625.2,864.3L624.7,904.4L632.3,909.1L640.6,904.4L639.4,866.6L641.3,857.2L641.7,845.4Z" fill="#fff" stroke="#000" stroke-width="3.00" />
<ellipse cx="631.1" cy="840.2" rx="10.9" ry="5.2" fill="#000" stroke="#000" stroke-width="3.00"/>
<ellipse cx="631.1" cy="838.8" rx="6.1" ry="2.1" fill="#000" stroke="#555" stroke-width="1.00"/>
<path d="M622.9,847.7C624.2,848.4 628.2,852.0 631.1,852.0C634.1,852.0 639.0,848.4 640.6,847.7" fill="none" stroke="#000" stroke-width="5.00" />
<path d="M627.6,854.8L628.8,866.6M633.5,880.8L634.7,904.4M613.4,864.7L629.9,866.6M620.5,880.8L618.1,887.8L606.3,890.2" fill="none" stroke="#000" stroke-width="4.00" />
<path d="M607.5,860.7C606.5,860.3 603.5,858.4 601.6,858.4C599.8,858.4 597.5,859.4 596.4,860.7C595.3,862.0 594.7,864.7 595.0,866.1C595.3,867.6 596.6,868.8 598.1,869.4C599.6,870.1 602.3,870.4 604.0,870.2C605.7,869.9 607.5,868.2 608.2,867.8" fill="none" stroke="#000" stroke-width="7.00" />
<path d="M601.6,878.4L608.7,873.7L615.8,874.9M608.7,887.8L620.5,883.1" fill="none" stroke="#000" stroke-width="3.00" />
<path d="M572.9,871.8C573.0,873.0 572.3,877.2 573.8,878.9C575.3,880.6 578.9,881.9 581.6,881.9C584.3,881.9 588.3,880.6 589.8,878.9C591.4,877.2 590.6,873.0 590.8,871.8" fill="#fff" stroke="#000" stroke-width="3.00" />
<ellipse cx="581.8" cy="871.8" rx="9.0" ry="4.5" fill="#fff" stroke="#000" stroke-width="6.00"/>
<ellipse cx="581.8" cy="871.3" rx="3.8" ry="1.7" fill="#000" stroke="#000" stroke-width="1.00"/>
<path d="M588.7,917.3C591.2,917.8 599.5,918.2 604.0,920.4C608.5,922.6 612.2,925.1 615.8,930.3C619.3,935.5 622.3,944.5 625.2,951.5C628.2,958.6 630.9,966.5 633.5,972.8C636.0,979.0 639.3,982.6 640.6,989.3C641.8,996.0 641.1,1008.9 641.3,1012.9" fill="none" stroke="#000" stroke-width="7.50" />
<path d="M588.7,917.3C591.2,917.8 599.5,918.2 604.0,920.4C608.5,922.6 612.2,925.1 615.8,930.3C619.3,935.5 622.3,944.5 625.2,951.5C628.2,958.6 630.9,966.5 633.5,972.8C636.0,979.0 639.3,982.6 640.6,989.3C641.8,996.0 641.1,1008.9 641.3,1012.9" fill="none" stroke="#fff" stroke-width="2.40" />
<ellipse cx="589.4" cy="917.3" rx="3.3" ry="5.2" fill="#000" stroke="#000" stroke-width="1.00"/>
<path d="M574.5,996.3L588.7,989.7L588.7,973.2L595.0,970.9L595.7,982.7L605.9,984.1L606.3,1008.6L595.7,1011.9L575.7,1001.5Z" fill="#fff" stroke="#000" stroke-width="3.00" />
<path d="M590.3,985.7L590.3,996.3L596.9,998.7L604.5,996.3L604.5,985.7" fill="#fff" stroke="#000" stroke-width="3.00" />
<ellipse cx="597.4" cy="985.0" rx="7.1" ry="3.1" fill="#000" stroke="#000" stroke-width="3.00"/>
<path d="M575.7,1001.5L595.7,1005.8L606.3,1002.2M595.7,1005.8L595.7,1011.9" fill="none" stroke="#000" stroke-width="3.00" />
<path d="M574.5,996.8L561.5,1008.6L552.1,1018.8L545.0,1036.9L539.8,1055.3L554.5,1086.5L576.2,1103.0L628.0,1079.4L628.0,1012.9L606.3,1008.6Z" fill="#fff" stroke="#000" stroke-width="3.00" />
<path d="M545.0,1036.9L628.0,1079.4" fill="none" stroke="#000" stroke-width="3.00" />
<path d="M554.5,1086.5L576.2,1103.0L628.0,1079.4" fill="none" stroke="#000" stroke-width="5.50" />
<path d="M421.2,865.4L542.7,911.9L542.2,977.9L540.3,1055.3L539.1,1149.7L443.6,1095.9L435.3,1081.7L424.2,1070.7L432.3,1045.9L430.6,927.5L421.9,920.9Z" fill="#fff" stroke="#000" stroke-width="3.00" />
<path d="M429.4,880.8L429.4,920.9M424.7,1045.9L418.8,1067.1L424.2,1070.7" fill="none" stroke="#000" stroke-width="3.00" />
<path d="M450.2,896.8L472.4,906.7" fill="none" stroke="#000" stroke-width="7.50" />
<path d="M450.2,896.8L472.4,906.7" fill="none" stroke="#fff" stroke-width="1.90" />
<path d="M481.8,870.9L481.8,880.8" fill="none" stroke="#000" stroke-width="6.00" />
<path d="M481.8,870.9L481.8,880.8" fill="none" stroke="#fff" stroke-width="1.20" />
<path d="M447.8,913.3L459.6,964.5" fill="none" stroke="#000" stroke-width="7.50" />
<path d="M447.8,913.3L459.6,964.5" fill="none" stroke="#fff" stroke-width="1.90" />
<path d="M476.1,923.7L465.3,985.7" fill="none" stroke="#000" stroke-width="7.50" />
<path d="M476.1,923.7L465.3,985.7" fill="none" stroke="#fff" stroke-width="1.90" />
<path d="M444.8,970.9L445.9,1005.3" fill="none" stroke="#000" stroke-width="7.00" />
<path d="M444.8,970.9L445.9,1005.3" fill="none" stroke="#fff" stroke-width="1.40" />
<path d="M479.0,970.9L480.2,1031.3" fill="none" stroke="#000" stroke-width="7.00" />
<path d="M479.0,970.9L480.2,1031.3" fill="none" stroke="#fff" stroke-width="1.40" />
<path d="M460.6,1003.9L450.2,1060.5" fill="none" stroke="#000" stroke-width="7.50" />
<path d="M460.6,1003.9L450.2,1060.5" fill="none" stroke="#fff" stroke-width="1.90" />
<path d="M464.3,1006.3L476.6,1078.4" fill="none" stroke="#000" stroke-width="7.50" />
<path d="M464.3,1006.3L476.6,1078.4" fill="none" stroke="#fff" stroke-width="1.90" />
<path d="M451.8,1082.4L477.8,1100.6" fill="none" stroke="#000" stroke-width="7.50" />
<path d="M451.8,1082.4L477.8,1100.6" fill="none" stroke="#fff" stroke-width="1.90" />
<path d="M440.5,875.6C440.4,876.0 439.7,877.6 440.1,878.4C440.4,879.2 441.6,880.2 442.4,880.3C443.2,880.4 444.4,879.1 444.8,878.9" fill="none" stroke="#000" stroke-width="3.20" />
<path d="M462.9,883.8C462.9,884.3 462.1,885.9 462.5,886.7C462.8,887.4 464.0,888.5 464.8,888.5C465.6,888.6 466.8,887.4 467.2,887.1" fill="none" stroke="#000" stroke-width="3.20" />
<path d="M486.5,893.3C486.4,893.7 485.7,895.3 486.0,896.1C486.4,896.9 487.6,897.9 488.4,898.0C489.2,898.1 490.4,896.8 490.8,896.6" fill="none" stroke="#000" stroke-width="3.20" />
<path d="M512.5,902.7C512.4,903.2 511.7,904.7 512.0,905.5C512.3,906.3 513.6,907.3 514.4,907.4C515.1,907.5 516.3,906.2 516.7,906.0" fill="none" stroke="#000" stroke-width="3.20" />
<path d="M537.9,912.1C537.9,912.6 537.2,914.2 537.5,915.0C537.8,915.8 539.0,916.8 539.8,916.9C540.6,916.9 541.8,915.7 542.2,915.4" fill="none" stroke="#000" stroke-width="3.20" />
<path d="M488.4,959.5L491.2,956.7L543.8,977.9L540.8,1104.9L493.6,1084.1L490.3,1079.4Z" fill="#fff" stroke="#000" stroke-width="3.00" />
<path d="M502.1,999.9L502.6,1049.4" fill="none" stroke="#000" stroke-width="6.50" />
<path d="M502.1,999.9L502.6,1049.4" fill="none" stroke="#fff" stroke-width="1.20" />
<ellipse cx="502.1" cy="997.1" rx="1.2" ry="1.2" fill="#000" stroke="#000" stroke-width="1.00"/>
<ellipse cx="502.6" cy="1053.0" rx="1.2" ry="1.2" fill="#000" stroke="#000" stroke-width="1.00"/>
<path d="M539.2,1093.2L541.5,1131.0L551.0,1157.4L570.3,1149.4L543.9,1105.0Z" fill="#fff" stroke="#000" stroke-width="3.00" />
<path d="M573.4,1151.7C574.7,1152.4 578.6,1156.0 581.6,1155.7C584.7,1155.4 589.9,1150.8 591.5,1149.8" fill="none" stroke="#000" stroke-width="3.00" />
<path d="M421.2,833.6L542.7,877.2L542.7,911.9L421.2,865.4Z" fill="#fff" stroke="#000" stroke-width="3.40" />
<path d="M422.8,845.4L431.3,848.2L431.3,863.3L422.8,860.5Z" fill="#fff" stroke="#000" stroke-width="3.00" />
<path d="M421.2,833.6L451.8,826.0L458.9,828.4L463.6,822.3L471.4,821.8L476.1,826.0L483.2,827.7L499.7,820.6L506.1,823.7L522.6,820.1L577.6,841.1L585.1,848.9L590.3,856.0L588.7,860.0L542.7,877.2L517.2,868.5L467.2,849.6Z" fill="#fff" stroke="#000" stroke-width="3.20" />
<path d="M481.8,831.2L522.6,820.1L577.6,841.1L574.5,848.2L517.2,868.0L467.2,849.2L470.7,843.0Z" fill="#000" stroke="#000" stroke-width="2.00" />
<path d="M434.6,834.1L461.3,827.0L475.4,833.6L467.2,849.2Z" fill="#fff" stroke="#000" stroke-width="3.20" />
<path d="M447.8,830.5L471.2,841.4M443.6,837.8L455.4,828.4M455.4,843.0L468.4,830.3" fill="none" stroke="#000" stroke-width="3.00" />
<path d="M461.3,827.0L463.6,822.3L471.4,821.8L476.1,826.0L481.8,831.2" fill="none" stroke="#000" stroke-width="3.00" />
<path d="M520.3,866.6L571.0,849.2L589.8,857.2L543.8,876.5Z" fill="#fff" stroke="#000" stroke-width="3.20" />
<path d="M532.0,871.6L580.4,853.2M532.8,862.4L555.6,872.3M545.5,858.1L567.4,867.6M558.2,853.6L578.5,862.4" fill="none" stroke="#000" stroke-width="3.00" />
<path d="M404.1,1295.0L303.7,1320.8L308.9,1348.8L408.5,1327.4Z" fill="#fff" stroke="#000" stroke-width="3.00" />
<path d="M404.8,1330.8C406.1,1331.9 409.6,1335.2 412.9,1337.0C416.2,1338.9 420.0,1340.6 424.7,1341.8C429.4,1342.9 435.5,1343.8 440.9,1343.8C446.3,1343.8 452.5,1343.0 457.2,1341.8C461.8,1340.5 465.6,1338.7 469.0,1336.3C472.3,1333.9 475.7,1328.9 477.1,1327.4" fill="none" stroke="#000" stroke-width="5.50" />
<path d="M410.0,1294.3L412.2,1328.2L417.3,1332.6L426.2,1336.3L435.0,1338.2L442.4,1338.5L451.3,1337.9L460.1,1335.6L467.5,1331.9L473.4,1326.7L475.6,1286.9Z" fill="#fff" stroke="#000" stroke-width="3.00" />
<ellipse cx="439.5" cy="1283.2" rx="36.9" ry="15.5" fill="#fff" stroke="#000" stroke-width="4.50" transform="rotate(-3 439.5 1283.2)"/>
<path d="M412.9,1276.8C413.8,1276.6 416.3,1274.9 418.1,1275.1C419.8,1275.3 422.5,1276.8 423.2,1278.0C424.0,1279.2 423.6,1281.3 422.5,1282.2C421.4,1283.0 418.1,1283.3 416.6,1283.2C415.0,1283.0 413.8,1281.6 413.2,1281.3" fill="none" stroke="#000" stroke-width="3.20" transform="rotate(0 418.8 1279.5)"/>
<path d="M454.2,1276.8C455.1,1276.6 457.7,1274.9 459.4,1275.1C461.1,1275.3 463.8,1276.8 464.5,1278.0C465.3,1279.2 464.9,1281.3 463.8,1282.2C462.7,1283.0 459.4,1283.3 457.9,1283.2C456.3,1283.0 455.1,1281.6 454.5,1281.3" fill="none" stroke="#000" stroke-width="3.20" transform="rotate(180 460.1 1279.5)"/>
<path d="M420.3,1288.9C421.1,1288.6 423.7,1287.0 425.4,1287.2C427.2,1287.4 429.9,1288.9 430.6,1290.1C431.3,1291.3 431.0,1293.4 429.9,1294.3C428.8,1295.1 425.5,1295.4 424.0,1295.3C422.4,1295.1 421.1,1293.7 420.6,1293.4" fill="none" stroke="#000" stroke-width="3.20" transform="rotate(20 426.2 1291.6)"/>
<path d="M446.8,1289.4C447.7,1289.1 450.3,1287.4 452.0,1287.6C453.7,1287.8 456.4,1289.4 457.2,1290.6C457.9,1291.7 457.5,1293.8 456.4,1294.7C455.3,1295.6 452.1,1295.9 450.5,1295.7C449.0,1295.6 447.7,1294.1 447.1,1293.8" fill="none" stroke="#000" stroke-width="3.20" transform="rotate(200 452.7 1292.0)"/>
<ellipse cx="438.0" cy="1275.4" rx="5.6" ry="3.0" fill="none" stroke="#000" stroke-width="3.20"/>
<ellipse cx="439.5" cy="1283.9" rx="5.9" ry="3.0" fill="none" stroke="#000" stroke-width="3.20"/>
<path d="M261.0,1319.3L277.2,1309.0L286.0,1305.8L293.7,1309.0L296.4,1319.3L304.0,1320.8L309.1,1348.8L298.7,1351.8L302.3,1365.4L291.9,1367.4L281.6,1362.4L272.8,1363.9L265.4,1356.5L258.0,1338.5L253.6,1329.7Z" fill="#fff" stroke="#000" stroke-width="3.60" />
<path d="M277.2,1309.0C277.9,1310.7 279.9,1313.4 281.6,1319.3C283.3,1325.2 285.8,1336.4 287.5,1344.4C289.2,1352.4 291.2,1363.6 291.9,1367.4M286.0,1305.8C287.0,1308.0 290.2,1313.9 291.9,1319.3C293.7,1324.8 294.6,1330.8 296.4,1338.5C298.1,1346.2 301.3,1360.9 302.3,1365.4M266.9,1319.3C268.6,1319.1 274.7,1317.9 277.2,1317.9C279.6,1317.9 280.9,1319.1 281.6,1319.3M272.8,1363.9C272.3,1361.6 271.0,1354.5 269.8,1350.3C268.6,1346.1 267.4,1341.5 265.4,1338.5C263.4,1335.6 259.2,1333.6 258.0,1332.6M281.6,1362.4L278.7,1353.3" fill="none" stroke="#000" stroke-width="3.00" />
<path d="M282.4,1322.3L287.5,1347.4" fill="none" stroke="#000" stroke-width="3.40" stroke-dasharray="7 5"/>
<path d="M296.7,1319.3L302.3,1320.8L307.4,1347.4L299.3,1350.3" fill="none" stroke="#000" stroke-width="6.00" />
<path d="M255.1,1329.7L194.6,1344.4L200.5,1364.3L264.2,1353.3Z" fill="#fff" stroke="#000" stroke-width="3.00" />
<path d="M246.2,1334.8L206.4,1344.4M227.0,1343.2L209.3,1347.4M252.1,1351.8L204.9,1360.6M228.5,1359.9L203.4,1364.3" fill="none" stroke="#000" stroke-width="2.00" />
<path d="M256.5,1326.7C257.8,1327.2 261.7,1327.7 263.9,1329.7C266.1,1331.6 268.3,1335.1 269.8,1338.5C271.3,1342.0 272.8,1346.9 272.8,1350.3C272.8,1353.8 270.3,1357.7 269.8,1359.2" fill="none" stroke="#000" stroke-width="3.00" />
<path d="M184.3,1341.5C187.2,1340.5 193.6,1342.4 196.1,1344.4C198.5,1346.4 198.6,1349.6 199.0,1353.3C199.4,1356.9 199.0,1362.6 198.3,1366.5C197.5,1370.5 196.9,1374.7 194.6,1376.9C192.2,1379.1 187.2,1381.3 184.3,1379.8C181.3,1378.3 177.9,1372.9 176.9,1368.0C175.9,1363.1 177.1,1354.7 178.4,1350.3C179.6,1345.9 181.3,1342.4 184.3,1341.5Z" fill="#000" stroke="#000" stroke-width="2.00" />
<ellipse cx="171.7" cy="1365.8" rx="15.5" ry="26.6" fill="#fff" stroke="#000" stroke-width="4.00" transform="rotate(12 171.7 1365.8)"/>
<ellipse cx="169.5" cy="1379.8" rx="14.0" ry="13.3" fill="none" stroke="#000" stroke-width="3.40"/>
<ellipse cx="165.8" cy="1363.6" rx="8.1" ry="9.6" fill="#fff" stroke="#000" stroke-width="3.40" transform="rotate(10 165.8 1363.6)"/>
<path d="M173.9,1359.2C174.9,1359.7 179.1,1360.6 179.8,1362.1C180.6,1363.6 178.6,1367.0 178.4,1368.0M173.9,1375.4L179.8,1378.3M162.1,1373.9C164.3,1373.2 172.0,1371.0 175.4,1369.5C178.8,1368.0 181.6,1365.8 182.8,1365.1" fill="none" stroke="#000" stroke-width="3.40" />
<path d="M242.4,1148.6C241.5,1161.9 241.0,1202.1 243.1,1215.8C245.3,1229.4 250.2,1227.4 255.4,1230.4C260.6,1233.4 264.4,1233.5 274.3,1233.7C284.1,1233.9 302.2,1233.6 314.4,1231.8C326.5,1230.1 339.9,1226.8 347.4,1223.3C354.8,1219.9 357.0,1223.7 359.2,1211.1C361.3,1198.4 363.1,1160.7 360.4,1147.4C357.6,1134.0 350.3,1133.9 342.7,1130.9C335.0,1127.8 325.0,1129.0 314.4,1129.0C303.7,1129.0 290.0,1129.8 279.0,1130.9C268.0,1132.0 254.4,1132.6 248.3,1135.6C242.2,1138.5 243.3,1135.2 242.4,1148.6Z" fill="#fff" stroke="#000" stroke-width="3.00" />
<path d="M242.4,1148.6C244.2,1150.7 247.7,1158.5 253.0,1161.5C258.3,1164.6 264.0,1166.2 274.3,1166.7C284.5,1167.2 302.2,1165.8 314.4,1164.4C326.5,1162.9 339.7,1160.8 347.4,1158.0C355.0,1155.2 358.2,1149.1 360.4,1147.4" fill="none" stroke="#000" stroke-width="3.00" />
<ellipse cx="256.6" cy="1140.8" rx="7.1" ry="3.5" fill="#000" stroke="#000" stroke-width="1.00" transform="rotate(-10 256.6 1140.8)"/>
<ellipse cx="273.1" cy="1158.2" rx="7.1" ry="3.5" fill="#000" stroke="#000" stroke-width="1.00" transform="rotate(-10 273.1 1158.2)"/>
<ellipse cx="306.1" cy="1148.1" rx="7.1" ry="3.5" fill="#000" stroke="#000" stroke-width="1.00" transform="rotate(-10 306.1 1148.1)"/>
<ellipse cx="316.2" cy="1199.7" rx="15.6" ry="15.1" fill="#000" stroke="#000" stroke-width="1.00"/>
<path d="M314.4,1187.5C315.1,1187.9 317.5,1189.8 319.1,1189.8C320.6,1189.9 323.0,1188.3 323.8,1187.9" fill="none" stroke="#fff" stroke-width="2.00" />
<path d="M315.5,1199.3L317.2,1204.0" fill="none" stroke="#fff" stroke-width="2.40" />
<path d="M321.9,1194.6L324.3,1197.4" fill="none" stroke="#fff" stroke-width="2.00" />
<path d="M302.6,1148.6C303.0,1145.6 303.6,1135.6 305.4,1130.9C307.2,1126.1 310.1,1122.5 313.2,1120.3C316.2,1118.0 320.5,1117.1 323.8,1117.2C327.1,1117.3 330.4,1118.9 332.8,1121.0C335.1,1123.0 337.1,1128.2 337.9,1129.7" fill="none" stroke="#000" stroke-width="7.50" />
<path d="M302.6,1148.6C303.0,1145.6 303.6,1135.6 305.4,1130.9C307.2,1126.1 310.1,1122.5 313.2,1120.3C316.2,1118.0 320.5,1117.1 323.8,1117.2C327.1,1117.3 330.4,1118.9 332.8,1121.0C335.1,1123.0 337.1,1128.2 337.9,1129.7" fill="none" stroke="#fff" stroke-width="2.60" />
<path d="M258.6,1142.6C256.8,1137.9 252.9,1123.7 247.9,1114.3C243.0,1104.9 235.4,1095.0 229.1,1086.0C222.8,1076.9 215.1,1068.3 210.2,1060.0C205.3,1051.8 201.2,1044.3 199.6,1036.4C198.0,1028.6 199.0,1021.1 200.8,1012.9C202.5,1004.6 206.7,994.4 210.2,986.9C213.7,979.4 217.7,973.1 222.0,968.0C226.3,963.0 231.0,959.4 236.1,956.7C241.3,954.0 247.5,952.6 252.7,952.0C257.8,951.4 262.1,951.5 266.8,952.9C271.5,954.4 277.0,957.3 281.0,961.0C284.9,964.7 288.2,970.0 290.4,975.1C292.6,980.2 293.9,985.7 293.9,991.6C293.9,997.5 292.6,1004.6 290.4,1010.5C288.2,1016.4 284.5,1021.5 281.0,1027.0C277.4,1032.5 272.7,1038.0 269.2,1043.5C265.6,1049.0 261.5,1054.5 259.7,1060.0C258.0,1065.5 258.2,1071.0 258.6,1076.5C258.9,1082.1 259.9,1087.6 262.1,1093.1C264.3,1098.6 268.8,1104.1 271.5,1109.6C274.3,1115.1 277.0,1120.6 278.6,1126.1C280.2,1131.6 280.6,1139.8 281.0,1142.6" fill="none" stroke="#000" stroke-width="3.00" />
</g>
<g stroke-linecap="round" stroke-linejoin="round">
<path d="M1567.0,1194.3L1744.2,1184.6M1567.0,1194.3L1717.3,1238.6M1567.0,1194.3L1642.9,1273.1M1567.0,1194.3L1541.1,1282.7M1567.0,1194.3L1463.6,1268.6M1567.0,1194.3L1413.2,1241.8M1567.0,1194.3L1390.2,1206.5M1567.0,1194.3L1414.8,1151.6M1567.0,1194.3L1497.6,1113.9M1567.0,1194.3L1616.0,1108.0M1567.0,1194.3L1713.4,1141.1M1579.8,1193.6L1577.8,1197.5L1572.5,1200.0L1565.1,1200.7L1559.5,1199.7L1555.9,1197.7L1554.3,1195.2L1556.0,1191.2L1562.0,1188.5L1570.5,1188.1L1577.5,1190.5ZM1594.1,1192.8L1590.0,1201.1L1578.6,1206.4L1563.0,1207.8L1551.2,1205.7L1543.4,1201.6L1539.9,1196.2L1543.7,1187.8L1556.4,1182.0L1574.5,1181.1L1589.4,1186.1ZM1610.1,1191.9L1603.6,1205.1L1585.5,1213.5L1560.7,1215.8L1541.9,1212.4L1529.6,1205.8L1524.0,1197.3L1530.0,1183.9L1550.1,1174.8L1578.9,1173.3L1602.6,1181.4ZM1629.2,1190.9L1619.8,1209.9L1593.7,1222.0L1557.9,1225.3L1530.7,1220.4L1513.0,1211.0L1504.9,1198.6L1513.5,1179.3L1542.6,1166.1L1584.2,1164.0L1618.4,1175.6ZM1648.4,1189.8L1636.0,1214.7L1601.9,1230.5L1555.1,1234.9L1519.5,1228.4L1496.3,1216.1L1485.8,1199.9L1497.1,1174.7L1535.1,1157.4L1589.5,1154.6L1634.2,1169.8ZM1667.6,1188.8L1652.3,1219.5L1610.1,1239.0L1552.3,1244.5L1508.3,1236.5L1479.7,1221.2L1466.7,1201.2L1480.6,1170.1L1527.6,1148.7L1594.8,1145.3L1650.1,1164.1ZM1687.5,1187.7L1669.2,1224.4L1618.6,1247.9L1549.4,1254.4L1496.7,1244.8L1462.4,1226.6L1446.8,1202.6L1463.5,1165.3L1519.8,1139.6L1600.3,1135.6L1666.6,1158.1ZM1707.5,1186.6L1686.1,1229.4L1627.2,1256.7L1546.4,1264.4L1485.0,1253.2L1445.1,1231.9L1426.9,1204.0L1446.3,1160.5L1512.0,1130.6L1605.8,1125.9L1683.0,1152.1ZM1726.6,1185.5L1702.4,1234.2L1635.4,1265.3L1543.6,1273.9L1473.9,1261.2L1428.4,1237.1L1407.8,1205.3L1429.9,1155.8L1504.5,1121.9L1611.1,1116.5L1698.9,1146.4Z" fill="none" stroke="#000" stroke-width="2.32"/>
<path d="M1545.8,1137.7C1544.2,1141.2 1537.1,1152.5 1536.4,1158.9C1535.7,1165.3 1542.1,1169.3 1541.5,1175.9C1541.0,1182.5 1538.7,1191.8 1533.0,1198.5C1527.4,1205.2 1516.5,1213.1 1507.6,1216.1C1498.6,1219.0 1490.1,1217.5 1479.3,1216.1C1468.4,1214.6 1456.6,1211.7 1442.5,1207.6C1428.3,1203.5 1402.4,1194.1 1394.3,1191.4" fill="none" stroke="#000" stroke-width="5.60" />
<path d="M1545.8,1137.7C1544.2,1141.2 1537.1,1152.5 1536.4,1158.9C1535.7,1165.3 1542.1,1169.3 1541.5,1175.9C1541.0,1182.5 1538.7,1191.8 1533.0,1198.5C1527.4,1205.2 1516.5,1213.1 1507.6,1216.1C1498.6,1219.0 1490.1,1217.5 1479.3,1216.1C1468.4,1214.6 1456.6,1211.7 1442.5,1207.6C1428.3,1203.5 1402.4,1194.1 1394.3,1191.4" fill="none" stroke="#fff" stroke-width="1.76" />
<path d="M1458.0,1146.1L1424.1,1170.8L1414.2,1169.6L1409.9,1174.5L1417.0,1178.7L1431.1,1175.9L1466.5,1151.8Z" fill="#fff" stroke="#000" stroke-width="2.32" />
<ellipse cx="1445.3" cy="1148.1" rx="2.8" ry="4.5" fill="#fff" stroke="#000" stroke-width="2.32" transform="rotate(20 1445.3 1148.1)"/>
<path d="M1426.9,1147.6L1436.8,1151.0M1405.7,1187.2L1412.7,1181.5" fill="none" stroke="#000" stroke-width="2.32" />
<path d="M1615.1,1160.3L1650.5,1269.3L1647.7,1272.7L1660.4,1284.0L1683.1,1274.9L1669.5,1263.6L1666.1,1263.6L1632.7,1156.1Z" fill="#fff" stroke="#000" stroke-width="2.32" />
<path d="M1647.7,1272.7L1668.9,1264.2L1683.1,1274.9" fill="none" stroke="#000" stroke-width="2.32" />
<path d="M1651.9,1277.2L1671.7,1268.7M1632.1,1266.4L1654.8,1290.5M1620.8,1283.4L1646.3,1282.0" fill="none" stroke="#000" stroke-width="2.32" />
<path d="M1584.0,1100.9C1588.7,1102.0 1603.8,1103.5 1612.3,1107.9C1620.8,1112.4 1628.8,1119.3 1634.9,1127.7C1641.1,1136.2 1646.3,1148.0 1649.1,1158.9C1651.9,1169.7 1652.9,1181.5 1651.9,1192.9C1651.0,1204.2 1648.1,1216.0 1643.4,1226.8C1638.7,1237.7 1631.2,1250.4 1623.6,1258.0C1616.1,1265.5 1609.0,1269.3 1598.1,1272.1C1587.3,1274.9 1571.3,1272.5 1558.5,1274.9C1545.8,1277.4 1527.8,1284.8 1521.7,1286.8L1518.9,1318.8C1524.5,1316.5 1544.4,1307.7 1552.9,1304.7C1561.3,1301.6 1562.3,1302.1 1569.8,1300.4C1577.4,1298.8 1588.7,1299.0 1598.1,1294.8C1607.6,1290.5 1617.0,1284.4 1626.4,1274.9C1635.9,1265.5 1646.3,1250.9 1654.8,1238.1C1663.2,1225.4 1672.7,1211.3 1677.4,1198.5C1682.1,1185.8 1683.5,1173.0 1683.1,1161.7C1682.6,1150.4 1679.3,1140.0 1674.6,1130.6C1669.8,1121.1 1662.8,1110.3 1654.8,1105.1C1646.7,1099.9 1631.2,1100.4 1626.4,1099.4Z" fill="#fff" stroke="none"/>
<path d="M1584.0,1100.9C1588.7,1102.0 1603.8,1103.5 1612.3,1107.9C1620.8,1112.4 1628.8,1119.3 1634.9,1127.7C1641.1,1136.2 1646.3,1148.0 1649.1,1158.9C1651.9,1169.7 1652.9,1181.5 1651.9,1192.9C1651.0,1204.2 1648.1,1216.0 1643.4,1226.8C1638.7,1237.7 1631.2,1250.4 1623.6,1258.0C1616.1,1265.5 1609.0,1269.3 1598.1,1272.1C1587.3,1274.9 1571.3,1272.5 1558.5,1274.9C1545.8,1277.4 1527.8,1284.8 1521.7,1286.8" fill="none" stroke="#000" stroke-width="2.32" />
<path d="M1518.9,1318.8C1524.5,1316.5 1544.4,1307.7 1552.9,1304.7C1561.3,1301.6 1562.3,1302.1 1569.8,1300.4C1577.4,1298.8 1588.7,1299.0 1598.1,1294.8C1607.6,1290.5 1617.0,1284.4 1626.4,1274.9C1635.9,1265.5 1646.3,1250.9 1654.8,1238.1C1663.2,1225.4 1672.7,1211.3 1677.4,1198.5C1682.1,1185.8 1683.5,1173.0 1683.1,1161.7C1682.6,1150.4 1679.3,1140.0 1674.6,1130.6C1669.8,1121.1 1662.8,1110.3 1654.8,1105.1C1646.7,1099.9 1631.2,1100.4 1626.4,1099.4" fill="none" stroke="#000" stroke-width="2.32" />
<path d="M1618.0,1128.3C1618.3,1128.9 1619.3,1131.7 1620.2,1132.0C1621.2,1132.3 1623.1,1130.3 1623.6,1130.0" fill="none" stroke="#000" stroke-width="2.40" />
<path d="M1584.0,1105.1L1581.2,1133.4L1595.3,1154.6L1612.3,1149.0L1584.0,1100.9Z" fill="#fff" stroke="#000" stroke-width="2.32" />
<path d="M1615.1,1149.0C1616.5,1149.8 1620.1,1153.8 1623.6,1153.8C1627.2,1153.8 1634.2,1149.8 1636.4,1149.0" fill="none" stroke="#000" stroke-width="2.32" />
<path d="M1588.2,870.8L1623.6,848.1L1671.7,864.5L1683.1,870.8L1683.1,1102.9L1676.0,1111.4L1626.4,1119.9L1584.0,1128.3Z" fill="#fff" stroke="none" stroke-width="2.08" />
<path d="M1602.4,869.3L1601.5,969.8M1626.4,873.6L1625.9,975.5M1650.5,877.8L1650.5,969.8M1657.6,879.8L1657.6,967.0M1676.0,860.9L1676.0,1111.4M1683.1,905.3L1683.1,1102.9M1676.0,1111.4L1683.1,1102.9M1601.5,981.2L1599.6,998.1" fill="none" stroke="#000" stroke-width="2.32" />
<path d="M1588.2,910.4L1602.4,904.7L1626.4,908.1M1588.2,976.1L1602.4,970.4L1626.4,976.1M1626.4,976.1L1618.5,993.0M1650.5,969.8L1673.2,964.7M1649.1,877.0L1673.2,870.2" fill="none" stroke="#000" stroke-width="2.32" />
<path d="M1603.8,867.4L1623.6,848.1L1671.7,864.5L1673.2,870.2L1649.1,877.0L1626.4,874.2Z" fill="#fff" stroke="#000" stroke-width="2.32" />
<path d="M1630.7,846.7L1640.6,850.4M1656.2,856.0L1666.1,859.4" fill="none" stroke="#000" stroke-width="3.20" />
<path d="M1666.6,836.8L1668.9,851.5L1675.1,857.2L1677.4,899.1L1683.1,905.3L1686.5,896.2L1684.8,853.8L1687.6,836.8Z" fill="#fff" stroke="#000" stroke-width="2.32" />
<ellipse cx="1676.5" cy="831.7" rx="11.3" ry="5.1" fill="#fff" stroke="#000" stroke-width="4.80"/>
<ellipse cx="1676.5" cy="831.1" rx="5.7" ry="2.3" fill="#000" stroke="#000" stroke-width="0.80"/>
<path d="M1667.5,839.6C1669.0,840.2 1673.4,843.0 1676.5,843.0C1679.7,843.0 1684.8,840.2 1686.5,839.6" fill="none" stroke="#000" stroke-width="4.00" />
<path d="M1671.7,848.1L1673.2,856.6M1678.8,900.5L1676.0,904.7" fill="none" stroke="#000" stroke-width="3.20" />
<path d="M1654.2,855.2C1653.1,854.8 1649.8,852.7 1647.7,852.6C1645.5,852.6 1642.4,853.6 1641.2,854.9C1639.9,856.2 1639.7,859.1 1640.0,860.6C1640.4,862.1 1642.9,863.4 1643.4,864.0" fill="none" stroke="#000" stroke-width="5.20" />
<path d="M1640.6,856.6L1641.2,863.7L1653.3,862.8L1654.2,856.0" fill="none" stroke="#000" stroke-width="2.32" />
<path d="M1616.3,866.5C1616.4,867.6 1615.2,871.5 1616.8,873.0C1618.4,874.6 1622.8,875.9 1625.9,875.9C1629.0,875.9 1633.8,874.6 1635.5,873.0C1637.2,871.5 1636.0,867.6 1636.1,866.5" fill="#fff" stroke="#000" stroke-width="2.32" />
<ellipse cx="1626.2" cy="865.7" rx="10.2" ry="5.4" fill="#fff" stroke="#000" stroke-width="5.20"/>
<ellipse cx="1626.2" cy="865.1" rx="4.8" ry="2.3" fill="#fff" stroke="#000" stroke-width="1.60"/>
<path d="M1634.9,911.0C1638.2,911.4 1649.1,910.6 1654.8,913.8C1660.4,917.0 1665.1,922.8 1668.9,930.2C1672.7,937.7 1674.8,950.0 1677.4,958.5C1680.0,967.0 1682.8,974.6 1684.5,981.2C1686.1,987.8 1687.3,993.3 1687.3,998.1C1687.4,1003.0 1685.2,1008.0 1684.8,1010.0" fill="none" stroke="#000" stroke-width="6.00" />
<path d="M1634.9,911.0C1638.2,911.4 1649.1,910.6 1654.8,913.8C1660.4,917.0 1665.1,922.8 1668.9,930.2C1672.7,937.7 1674.8,950.0 1677.4,958.5C1680.0,967.0 1682.8,974.6 1684.5,981.2C1686.1,987.8 1687.3,993.3 1687.3,998.1C1687.4,1003.0 1685.2,1008.0 1684.8,1010.0" fill="none" stroke="#fff" stroke-width="1.92" />
<ellipse cx="1634.9" cy="911.0" rx="3.4" ry="5.7" fill="#fff" stroke="#000" stroke-width="2.80"/>
<path d="M1618.0,993.0L1632.1,984.6L1632.1,969.0L1637.8,967.0L1638.3,978.9L1649.1,981.2L1650.8,1001.5L1640.6,1008.3L1619.7,998.7Z" fill="#fff" stroke="#000" stroke-width="2.32" />
<path d="M1633.8,981.2L1633.8,991.9L1640.6,994.7L1648.0,991.9L1648.0,981.2" fill="#fff" stroke="#000" stroke-width="2.32" />
<ellipse cx="1640.9" cy="980.0" rx="7.1" ry="3.4" fill="#fff" stroke="#000" stroke-width="4.00"/>
<path d="M1619.7,998.7L1640.6,1002.7L1650.8,998.1M1640.6,1002.7L1640.6,1008.3" fill="none" stroke="#000" stroke-width="2.32" />
<path d="M1618.0,995.3L1603.8,1006.6L1592.5,1023.6L1588.2,1035.5L1584.0,1049.7L1598.1,1083.1L1623.6,1098.9L1673.2,1073.4L1673.2,1009.5L1650.8,1001.5Z" fill="#fff" stroke="#000" stroke-width="2.32" />
<path d="M1589.1,1033.8L1673.2,1073.4" fill="none" stroke="#000" stroke-width="2.32" />
<path d="M1598.1,1083.1L1623.6,1098.9L1673.2,1073.4" fill="none" stroke="#000" stroke-width="4.00" />
<ellipse cx="1596.7" cy="999.6" rx="1.4" ry="2.0" fill="none" stroke="#000" stroke-width="1.76"/>
<ellipse cx="1596.7" cy="1005.2" rx="1.4" ry="2.0" fill="none" stroke="#000" stroke-width="1.76"/>
<path d="M1458.0,860.9L1588.2,910.4L1587.4,1083.1L1584.0,1128.3L1595.3,1153.8L1581.2,1151.0L1496.2,1108.5L1472.2,1076.0L1463.7,1070.3L1470.8,1040.6L1469.3,921.7L1459.4,913.2Z" fill="#fff" stroke="#000" stroke-width="2.32" />
<path d="M1467.4,875.0L1467.4,913.2M1584.0,1083.1L1581.2,1128.3" fill="none" stroke="#000" stroke-width="2.32" />
<path d="M1490.0,890.6L1513.8,900.2" fill="none" stroke="#000" stroke-width="6.00" />
<path d="M1490.0,890.6L1513.8,900.2" fill="none" stroke="#fff" stroke-width="1.52" />
<path d="M1522.3,865.1L1523.4,877.8" fill="none" stroke="#000" stroke-width="4.80" />
<path d="M1522.3,865.1L1523.4,877.8" fill="none" stroke="#fff" stroke-width="0.96" />
<path d="M1487.2,908.1L1497.7,957.1" fill="none" stroke="#000" stroke-width="6.00" />
<path d="M1487.2,908.1L1497.7,957.1" fill="none" stroke="#fff" stroke-width="1.52" />
<path d="M1484.9,966.4L1487.7,1000.4" fill="none" stroke="#000" stroke-width="5.60" />
<path d="M1484.9,966.4L1487.7,1000.4" fill="none" stroke="#fff" stroke-width="1.12" />
<path d="M1521.7,995.3L1522.3,1026.4" fill="none" stroke="#000" stroke-width="5.60" />
<path d="M1521.7,995.3L1522.3,1026.4" fill="none" stroke="#fff" stroke-width="1.12" />
<path d="M1512.7,1044.0L1517.5,1075.1" fill="none" stroke="#000" stroke-width="6.00" />
<path d="M1512.7,1044.0L1517.5,1075.1" fill="none" stroke="#fff" stroke-width="1.52" />
<path d="M1503.3,1086.5L1520.3,1099.5" fill="none" stroke="#000" stroke-width="6.00" />
<path d="M1503.3,1086.5L1520.3,1099.5" fill="none" stroke="#fff" stroke-width="1.52" />
<path d="M1481.2,868.8C1481.1,869.3 1480.3,871.2 1480.7,872.2C1481.0,873.1 1482.6,874.4 1483.5,874.4C1484.4,874.5 1485.9,873.0 1486.3,872.7" fill="none" stroke="#000" stroke-width="2.56" />
<path d="M1503.9,878.1C1503.8,878.7 1502.9,880.6 1503.3,881.5C1503.7,882.5 1505.2,883.7 1506.1,883.8C1507.1,883.9 1508.5,882.4 1509.0,882.1" fill="none" stroke="#000" stroke-width="2.56" />
<path d="M1527.9,887.7C1527.8,888.3 1527.0,890.2 1527.4,891.1C1527.8,892.1 1529.3,893.3 1530.2,893.4C1531.2,893.5 1532.6,892.0 1533.0,891.7" fill="none" stroke="#000" stroke-width="2.56" />
<path d="M1553.4,896.2C1553.3,896.8 1552.5,898.7 1552.9,899.6C1553.2,900.6 1554.7,901.8 1555.7,901.9C1556.6,902.0 1558.0,900.5 1558.5,900.2" fill="none" stroke="#000" stroke-width="2.56" />
<path d="M1581.7,905.6C1581.6,906.1 1580.8,908.0 1581.2,909.0C1581.5,909.9 1583.0,911.1 1584.0,911.2C1584.9,911.3 1586.3,909.8 1586.8,909.5" fill="none" stroke="#000" stroke-width="2.56" />
<path d="M1611.4,908.4C1611.4,909.0 1610.5,910.9 1610.9,911.8C1611.3,912.8 1612.8,914.0 1613.7,914.1C1614.7,914.2 1616.1,912.7 1616.5,912.4" fill="none" stroke="#000" stroke-width="2.56" />
<path d="M1641.2,875.9C1641.1,876.4 1640.2,878.3 1640.6,879.3C1641.0,880.2 1642.5,881.4 1643.4,881.5C1644.4,881.6 1645.8,880.1 1646.3,879.8" fill="none" stroke="#000" stroke-width="2.56" />
<path d="M1531.6,956.2L1535.9,954.3L1586.8,976.9L1584.0,1105.7L1536.4,1080.8L1532.5,1075.1Z" fill="#fff" stroke="#000" stroke-width="2.32" />
<path d="M1545.8,999.6L1545.8,1044.0" fill="none" stroke="#000" stroke-width="5.20" />
<path d="M1545.8,999.6L1545.8,1044.0" fill="none" stroke="#fff" stroke-width="0.96" />
<ellipse cx="1545.8" cy="993.6" rx="1.1" ry="1.1" fill="#000" stroke="#000" stroke-width="0.80"/>
<ellipse cx="1545.8" cy="1050.8" rx="1.1" ry="1.1" fill="#000" stroke="#000" stroke-width="0.80"/>
<path d="M1455.2,828.3L1588.2,870.8L1588.2,910.4L1458.0,860.9Z" fill="#fff" stroke="#000" stroke-width="2.72" />
<path d="M1462.3,839.1L1473.0,842.5L1473.0,857.2L1462.3,853.8Z" fill="#fff" stroke="#000" stroke-width="2.32" />
<path d="M1455.2,828.3L1496.2,817.5L1501.9,821.2L1509.0,814.7L1518.9,816.4L1524.5,819.8L1535.9,814.2L1547.2,811.9L1552.9,815.6L1567.0,812.7L1619.4,833.4L1620.8,840.2L1626.4,847.6L1603.8,867.4L1588.2,870.8Z" fill="#fff" stroke="#000" stroke-width="2.56" />
<path d="M1508.1,833.4L1565.6,812.7L1620.2,834.0L1619.4,840.2L1558.5,861.1L1499.1,838.5Z" fill="#000" stroke="#000" stroke-width="1.60" />
<path d="M1474.2,828.3L1497.7,822.1L1509.0,828.3L1499.6,838.5Z" fill="#fff" stroke="#000" stroke-width="2.56" />
<path d="M1484.9,825.5L1504.2,833.4M1482.1,831.7L1493.4,823.2M1491.1,835.7L1503.3,825.5" fill="none" stroke="#000" stroke-width="2.40" />
<path d="M1562.8,860.0L1610.0,843.0L1625.0,848.7L1604.4,866.8L1589.1,870.8Z" fill="#fff" stroke="#000" stroke-width="2.88" />
<path d="M1575.5,865.7L1618.0,845.9M1575.5,855.5L1598.1,865.7M1588.2,851.0L1610.9,860.0M1600.4,846.7L1619.4,854.3" fill="none" stroke="#000" stroke-width="2.40" />
<path d="M1509.0,909.3L1533.0,916.6L1535.3,924.5L1531.9,933.0L1489.2,1130.0L1466.5,1120.4Z" fill="#fff" stroke="#000" stroke-width="2.32" />
<path d="M1511.0,913.8L1530.8,920.9M1526.0,924.5L1484.9,1128.3M1528.8,933.0L1487.7,1125.5" fill="none" stroke="#000" stroke-width="2.32" />
<path d="M1509.0,909.3L1533.0,916.6" fill="none" stroke="#000" stroke-width="4.00" />
<path d="M1500.8,972.7L1513.2,977.2L1506.4,1001.5L1494.5,997.0Z" fill="#fff" stroke="#000" stroke-width="2.32" />
<path d="M1492.8,1014.0L1498.5,1015.7L1497.7,1021.4L1492.0,1019.7Z" fill="#fff" stroke="#000" stroke-width="2.32" />
<path d="M1467.9,1123.5L1424.1,1235.3L1431.1,1242.7L1438.2,1238.7L1456.6,1216.1L1490.6,1125.5Z" fill="#fff" stroke="#000" stroke-width="2.32" />
<path d="M1477.0,1127.7L1436.8,1239.6M1482.1,1130.0L1445.3,1226.8" fill="none" stroke="#000" stroke-width="2.32" />
<g transform="translate(1039.2,3)"><path d="M404.1,1295.0L303.7,1320.8L308.9,1348.8L408.5,1327.4Z" fill="#fff" stroke="#000" stroke-width="2.40" />
<path d="M404.8,1330.8C406.1,1331.9 409.6,1335.2 412.9,1337.0C416.2,1338.9 420.0,1340.6 424.7,1341.8C429.4,1342.9 435.5,1343.8 440.9,1343.8C446.3,1343.8 452.5,1343.0 457.2,1341.8C461.8,1340.5 465.6,1338.7 469.0,1336.3C472.3,1333.9 475.7,1328.9 477.1,1327.4" fill="none" stroke="#000" stroke-width="4.40" />
<path d="M410.0,1294.3L412.2,1328.2L417.3,1332.6L426.2,1336.3L435.0,1338.2L442.4,1338.5L451.3,1337.9L460.1,1335.6L467.5,1331.9L473.4,1326.7L475.6,1286.9Z" fill="#fff" stroke="#000" stroke-width="2.40" />
<ellipse cx="439.5" cy="1283.2" rx="36.9" ry="15.5" fill="#fff" stroke="#000" stroke-width="3.60" transform="rotate(-3 439.5 1283.2)"/>
<path d="M412.9,1276.8C413.8,1276.6 416.3,1274.9 418.1,1275.1C419.8,1275.3 422.5,1276.8 423.2,1278.0C424.0,1279.2 423.6,1281.3 422.5,1282.2C421.4,1283.0 418.1,1283.3 416.6,1283.2C415.0,1283.0 413.8,1281.6 413.2,1281.3" fill="none" stroke="#000" stroke-width="2.56" transform="rotate(0 418.8 1279.5)"/>
<path d="M454.2,1276.8C455.1,1276.6 457.7,1274.9 459.4,1275.1C461.1,1275.3 463.8,1276.8 464.5,1278.0C465.3,1279.2 464.9,1281.3 463.8,1282.2C462.7,1283.0 459.4,1283.3 457.9,1283.2C456.3,1283.0 455.1,1281.6 454.5,1281.3" fill="none" stroke="#000" stroke-width="2.56" transform="rotate(180 460.1 1279.5)"/>
<path d="M420.3,1288.9C421.1,1288.6 423.7,1287.0 425.4,1287.2C427.2,1287.4 429.9,1288.9 430.6,1290.1C431.3,1291.3 431.0,1293.4 429.9,1294.3C428.8,1295.1 425.5,1295.4 424.0,1295.3C422.4,1295.1 421.1,1293.7 420.6,1293.4" fill="none" stroke="#000" stroke-width="2.56" transform="rotate(20 426.2 1291.6)"/>
<path d="M446.8,1289.4C447.7,1289.1 450.3,1287.4 452.0,1287.6C453.7,1287.8 456.4,1289.4 457.2,1290.6C457.9,1291.7 457.5,1293.8 456.4,1294.7C455.3,1295.6 452.1,1295.9 450.5,1295.7C449.0,1295.6 447.7,1294.1 447.1,1293.8" fill="none" stroke="#000" stroke-width="2.56" transform="rotate(200 452.7 1292.0)"/>
<ellipse cx="438.0" cy="1275.4" rx="5.6" ry="3.0" fill="none" stroke="#000" stroke-width="2.56"/>
<ellipse cx="439.5" cy="1283.9" rx="5.9" ry="3.0" fill="none" stroke="#000" stroke-width="2.56"/>
<path d="M261.0,1319.3L277.2,1309.0L286.0,1305.8L293.7,1309.0L296.4,1319.3L304.0,1320.8L309.1,1348.8L298.7,1351.8L302.3,1365.4L291.9,1367.4L281.6,1362.4L272.8,1363.9L265.4,1356.5L258.0,1338.5L253.6,1329.7Z" fill="#fff" stroke="#000" stroke-width="2.88" />
<path d="M277.2,1309.0C277.9,1310.7 279.9,1313.4 281.6,1319.3C283.3,1325.2 285.8,1336.4 287.5,1344.4C289.2,1352.4 291.2,1363.6 291.9,1367.4M286.0,1305.8C287.0,1308.0 290.2,1313.9 291.9,1319.3C293.7,1324.8 294.6,1330.8 296.4,1338.5C298.1,1346.2 301.3,1360.9 302.3,1365.4M266.9,1319.3C268.6,1319.1 274.7,1317.9 277.2,1317.9C279.6,1317.9 280.9,1319.1 281.6,1319.3M272.8,1363.9C272.3,1361.6 271.0,1354.5 269.8,1350.3C268.6,1346.1 267.4,1341.5 265.4,1338.5C263.4,1335.6 259.2,1333.6 258.0,1332.6M281.6,1362.4L278.7,1353.3" fill="none" stroke="#000" stroke-width="2.40" />
<path d="M282.4,1322.3L287.5,1347.4" fill="none" stroke="#000" stroke-width="2.72" stroke-dasharray="7 5"/>
<path d="M296.7,1319.3L302.3,1320.8L307.4,1347.4L299.3,1350.3" fill="none" stroke="#000" stroke-width="4.80" />
<path d="M255.1,1329.7L194.6,1344.4L200.5,1364.3L264.2,1353.3Z" fill="#fff" stroke="#000" stroke-width="2.40" />
<path d="M246.2,1334.8L206.4,1344.4M227.0,1343.2L209.3,1347.4M252.1,1351.8L204.9,1360.6M228.5,1359.9L203.4,1364.3" fill="none" stroke="#000" stroke-width="1.60" />
<path d="M256.5,1326.7C257.8,1327.2 261.7,1327.7 263.9,1329.7C266.1,1331.6 268.3,1335.1 269.8,1338.5C271.3,1342.0 272.8,1346.9 272.8,1350.3C272.8,1353.8 270.3,1357.7 269.8,1359.2" fill="none" stroke="#000" stroke-width="2.40" />
<path d="M184.3,1341.5C187.2,1340.5 193.6,1342.4 196.1,1344.4C198.5,1346.4 198.6,1349.6 199.0,1353.3C199.4,1356.9 199.0,1362.6 198.3,1366.5C197.5,1370.5 196.9,1374.7 194.6,1376.9C192.2,1379.1 187.2,1381.3 184.3,1379.8C181.3,1378.3 177.9,1372.9 176.9,1368.0C175.9,1363.1 177.1,1354.7 178.4,1350.3C179.6,1345.9 181.3,1342.4 184.3,1341.5Z" fill="#000" stroke="#000" stroke-width="1.60" />
<ellipse cx="171.7" cy="1365.8" rx="15.5" ry="26.6" fill="#fff" stroke="#000" stroke-width="3.20" transform="rotate(12 171.7 1365.8)"/>
<ellipse cx="169.5" cy="1379.8" rx="14.0" ry="13.3" fill="none" stroke="#000" stroke-width="2.72"/>
<ellipse cx="165.8" cy="1363.6" rx="8.1" ry="9.6" fill="#fff" stroke="#000" stroke-width="2.72" transform="rotate(10 165.8 1363.6)"/>
<path d="M173.9,1359.2C174.9,1359.7 179.1,1360.6 179.8,1362.1C180.6,1363.6 178.6,1367.0 178.4,1368.0M173.9,1375.4L179.8,1378.3M162.1,1373.9C164.3,1373.2 172.0,1371.0 175.4,1369.5C178.8,1368.0 181.6,1365.8 182.8,1365.1" fill="none" stroke="#000" stroke-width="2.72" /></g>
<g transform="translate(1039.2,1.8)"><path d="M242.4,1148.6C241.5,1161.9 241.0,1202.1 243.1,1215.8C245.3,1229.4 250.2,1227.4 255.4,1230.4C260.6,1233.4 264.4,1233.5 274.3,1233.7C284.1,1233.9 302.2,1233.6 314.4,1231.8C326.5,1230.1 339.9,1226.8 347.4,1223.3C354.8,1219.9 357.0,1223.7 359.2,1211.1C361.3,1198.4 363.1,1160.7 360.4,1147.4C357.6,1134.0 350.3,1133.9 342.7,1130.9C335.0,1127.8 325.0,1129.0 314.4,1129.0C303.7,1129.0 290.0,1129.8 279.0,1130.9C268.0,1132.0 254.4,1132.6 248.3,1135.6C242.2,1138.5 243.3,1135.2 242.4,1148.6Z" fill="#fff" stroke="#000" stroke-width="2.40" />
<path d="M242.4,1148.6C244.2,1150.7 247.7,1158.5 253.0,1161.5C258.3,1164.6 264.0,1166.2 274.3,1166.7C284.5,1167.2 302.2,1165.8 314.4,1164.4C326.5,1162.9 339.7,1160.8 347.4,1158.0C355.0,1155.2 358.2,1149.1 360.4,1147.4" fill="none" stroke="#000" stroke-width="2.40" />
<ellipse cx="256.6" cy="1140.8" rx="7.1" ry="3.5" fill="#000" stroke="#000" stroke-width="0.80" transform="rotate(-10 256.6 1140.8)"/>
<ellipse cx="273.1" cy="1158.2" rx="7.1" ry="3.5" fill="#000" stroke="#000" stroke-width="0.80" transform="rotate(-10 273.1 1158.2)"/>
<ellipse cx="306.1" cy="1148.1" rx="7.1" ry="3.5" fill="#000" stroke="#000" stroke-width="0.80" transform="rotate(-10 306.1 1148.1)"/>
<ellipse cx="316.2" cy="1199.7" rx="15.6" ry="15.1" fill="#000" stroke="#000" stroke-width="0.80"/>
<path d="M314.4,1187.5C315.1,1187.9 317.5,1189.8 319.1,1189.8C320.6,1189.9 323.0,1188.3 323.8,1187.9" fill="none" stroke="#fff" stroke-width="1.60" />
<path d="M315.5,1199.3L317.2,1204.0" fill="none" stroke="#fff" stroke-width="1.92" />
<path d="M321.9,1194.6L324.3,1197.4" fill="none" stroke="#fff" stroke-width="1.60" />
<path d="M302.6,1148.6C303.0,1145.6 303.6,1135.6 305.4,1130.9C307.2,1126.1 310.1,1122.5 313.2,1120.3C316.2,1118.0 320.5,1117.1 323.8,1117.2C327.1,1117.3 330.4,1118.9 332.8,1121.0C335.1,1123.0 337.1,1128.2 337.9,1129.7" fill="none" stroke="#000" stroke-width="6.00" />
<path d="M302.6,1148.6C303.0,1145.6 303.6,1135.6 305.4,1130.9C307.2,1126.1 310.1,1122.5 313.2,1120.3C316.2,1118.0 320.5,1117.1 323.8,1117.2C327.1,1117.3 330.4,1118.9 332.8,1121.0C335.1,1123.0 337.1,1128.2 337.9,1129.7" fill="none" stroke="#fff" stroke-width="2.08" /></g>
<g transform="translate(1042,-4)"><path d="M258.6,1142.6C256.8,1137.9 252.9,1123.7 247.9,1114.3C243.0,1104.9 235.4,1095.0 229.1,1086.0C222.8,1076.9 215.1,1068.3 210.2,1060.0C205.3,1051.8 201.2,1044.3 199.6,1036.4C198.0,1028.6 199.0,1021.1 200.8,1012.9C202.5,1004.6 206.7,994.4 210.2,986.9C213.7,979.4 217.7,973.1 222.0,968.0C226.3,963.0 231.0,959.4 236.1,956.7C241.3,954.0 247.5,952.6 252.7,952.0C257.8,951.4 262.1,951.5 266.8,952.9C271.5,954.4 277.0,957.3 281.0,961.0C284.9,964.7 288.2,970.0 290.4,975.1C292.6,980.2 293.9,985.7 293.9,991.6C293.9,997.5 292.6,1004.6 290.4,1010.5C288.2,1016.4 284.5,1021.5 281.0,1027.0C277.4,1032.5 272.7,1038.0 269.2,1043.5C265.6,1049.0 261.5,1054.5 259.7,1060.0C258.0,1065.5 258.2,1071.0 258.6,1076.5C258.9,1082.1 259.9,1087.6 262.1,1093.1C264.3,1098.6 268.8,1104.1 271.5,1109.6C274.3,1115.1 277.0,1120.6 278.6,1126.1C280.2,1131.6 280.6,1139.8 281.0,1142.6" fill="none" stroke="#000" stroke-width="2.40" /></g>
</g>
<g stroke-linecap="round" stroke-linejoin="round">
<path d="M2388.7,1197.6L2347.6,1026.1M2388.7,1197.6L2231.9,1048.1M2388.7,1197.6L2127.8,1109.6M2388.7,1197.6L2123.4,1202.0M2388.7,1197.6L2170.3,1276.7M2388.7,1197.6L2294.9,1336.8M2388.7,1197.6L2434.1,1357.3M2388.7,1197.6L2533.7,1342.6M2388.7,1197.6L2615.8,1281.1M2388.7,1197.6L2642.2,1209.3M2388.7,1197.6L2604.1,1133.1M2388.7,1197.6L2489.8,1059.8" fill="none" stroke="#000" stroke-width="3.60"/>
<path d="M2383.3,1175.3L2368.3,1178.1L2354.8,1186.1L2354.2,1198.1L2360.3,1207.8L2376.5,1215.7L2394.6,1218.3L2407.5,1216.4L2418.2,1208.4L2421.6,1199.1L2416.7,1189.2L2401.8,1179.7ZM2378.8,1156.4L2351.0,1161.7L2326.1,1176.5L2325.0,1198.6L2336.3,1216.6L2366.2,1231.0L2399.6,1235.9L2423.5,1232.4L2443.2,1217.6L2449.5,1200.4L2440.4,1182.1L2412.9,1164.5ZM2374.1,1136.7L2333.0,1144.5L2296.1,1166.4L2294.5,1199.1L2311.2,1225.7L2355.4,1247.0L2404.8,1254.3L2440.2,1249.1L2469.3,1227.2L2478.7,1201.7L2465.1,1174.7L2424.6,1148.7ZM2369.2,1116.1L2314.2,1126.6L2264.8,1155.8L2262.7,1199.7L2285.0,1235.1L2344.1,1263.7L2410.2,1273.4L2457.6,1266.5L2496.6,1237.2L2509.1,1203.1L2491.0,1166.9L2436.7,1132.1ZM2363.6,1093.0L2293.0,1106.4L2229.6,1143.9L2226.9,1200.2L2255.5,1245.8L2331.5,1282.5L2416.4,1295.0L2477.2,1286.1L2527.2,1248.5L2543.3,1204.7L2520.1,1158.2L2450.3,1113.5ZM2358.7,1072.4L2274.2,1088.5L2198.3,1133.4L2195.1,1200.8L2229.3,1255.3L2320.2,1299.2L2421.8,1314.2L2494.6,1303.5L2554.5,1258.5L2573.7,1206.1L2545.9,1150.5L2462.5,1097.0ZM2353.4,1050.1L2253.8,1069.0L2164.4,1122.0L2160.6,1201.3L2200.9,1265.6L2308.0,1317.3L2427.7,1334.9L2513.4,1322.3L2584.0,1269.4L2606.7,1207.6L2573.9,1142.1L2475.6,1079.1ZM2347.6,1026.1L2231.9,1048.1L2127.8,1109.6L2123.4,1202.0L2170.3,1276.7L2294.9,1336.8L2434.1,1357.3L2533.7,1342.6L2615.8,1281.1L2642.2,1209.3L2604.1,1133.1L2489.8,1059.8Z" fill="none" stroke="#000" stroke-width="2.40"/>
<path d="M2533.7,1342.6L2557.2,1332.4M2615.8,1281.1L2636.3,1215.1M2539.6,1253.2L2615.8,1281.1M2563.0,1285.5L2583.6,1253.2M2586.5,1303.1L2609.9,1267.9M2621.7,1335.3L2627.5,1332.4M2624.6,1226.9L2618.7,1279.6" fill="none" stroke="#000" stroke-width="2.40" />
<path d="M2385.7,1197.6L2386.6,1174.1L2388.7,1165.3L2391.9,1174.1L2393.1,1197.6Z" fill="#000" stroke="#000" stroke-width="2.00" />
<ellipse cx="2389.5" cy="1163.9" rx="4.1" ry="4.1" fill="#000" stroke="#000" stroke-width="1.00"/>
<path d="M2552.8,1185.8C2555.5,1187.8 2566.2,1192.7 2568.9,1197.6C2571.6,1202.4 2572.8,1208.8 2568.9,1215.1C2565.0,1221.5 2552.8,1227.8 2545.5,1235.7C2538.1,1243.5 2528.9,1253.2 2524.9,1262.0C2521.0,1270.8 2520.1,1279.6 2522.0,1288.4C2524.0,1297.2 2530.8,1307.5 2536.7,1314.8C2542.5,1322.1 2549.4,1327.0 2557.2,1332.4C2565.0,1337.7 2576.7,1343.5 2583.6,1347.0C2590.4,1350.5 2595.8,1352.4 2598.2,1353.5L2651.0,1310.4C2644.6,1310.6 2625.6,1312.6 2612.9,1311.9C2600.2,1311.1 2585.5,1309.9 2574.8,1306.0C2564.0,1302.1 2554.7,1295.3 2548.4,1288.4C2542.0,1281.6 2537.6,1272.3 2536.7,1265.0C2535.7,1257.6 2537.2,1251.8 2542.5,1244.5C2547.9,1237.1 2560.1,1228.8 2568.9,1221.0C2577.7,1213.2 2589.8,1205.4 2595.3,1197.6C2600.8,1189.7 2601.7,1180.7 2601.7,1174.1C2601.7,1167.5 2596.4,1160.7 2595.3,1158.0Z" fill="#fff" stroke="none"/>
<path d="M2552.8,1185.8C2555.5,1187.8 2566.2,1192.7 2568.9,1197.6C2571.6,1202.4 2572.8,1208.8 2568.9,1215.1C2565.0,1221.5 2552.8,1227.8 2545.5,1235.7C2538.1,1243.5 2528.9,1253.2 2524.9,1262.0C2521.0,1270.8 2520.1,1279.6 2522.0,1288.4C2524.0,1297.2 2530.8,1307.5 2536.7,1314.8C2542.5,1322.1 2549.4,1327.0 2557.2,1332.4C2565.0,1337.7 2576.7,1343.5 2583.6,1347.0C2590.4,1350.5 2595.8,1352.4 2598.2,1353.5" fill="none" stroke="#000" stroke-width="2.80" />
<path d="M2651.0,1310.4C2644.6,1310.6 2625.6,1312.6 2612.9,1311.9C2600.2,1311.1 2585.5,1309.9 2574.8,1306.0C2564.0,1302.1 2554.7,1295.3 2548.4,1288.4C2542.0,1281.6 2537.6,1272.3 2536.7,1265.0C2535.7,1257.6 2537.2,1251.8 2542.5,1244.5C2547.9,1237.1 2560.1,1228.8 2568.9,1221.0C2577.7,1213.2 2589.8,1205.4 2595.3,1197.6C2600.8,1189.7 2601.7,1180.7 2601.7,1174.1C2601.7,1167.5 2596.4,1160.7 2595.3,1158.0" fill="none" stroke="#000" stroke-width="2.80" />
<path d="M2652.4,1308.9L2585.0,1360.2M2568.9,1328.0L2592.4,1338.2" fill="none" stroke="#000" stroke-width="3.00" />
<path d="M2598.2,1156.5L2609.9,1136.0L2651.0,1209.3L2642.2,1215.1Z" fill="#fff" stroke="#000" stroke-width="2.50" />
<path d="M2608.5,1175.6L2645.1,1212.2" fill="none" stroke="#000" stroke-width="2.50" />
<path d="M2626.1,1226.9L2662.7,1212.2L2677.9,1221.6L2642.8,1236.2Z" fill="#fff" stroke="#000" stroke-width="3.40" />
<path d="M2639.2,1225.4L2661.2,1217.5L2668.5,1222.5L2647.4,1230.4Z" fill="#fff" stroke="#000" stroke-width="2.00" />
<path d="M2642.2,1206.9L2653.9,1215.1L2648.0,1221.0L2637.8,1213.7Z" fill="#000" stroke="#000" stroke-width="2.00" />
<path d="M2564.8,955.3C2569.5,952.9 2584.6,943.0 2593.1,941.1C2601.6,939.3 2609.6,940.3 2615.7,944.0C2621.8,947.7 2626.9,955.3 2629.9,963.2C2632.8,971.1 2634.7,981.2 2633.3,991.5C2631.8,1001.9 2625.6,1014.2 2621.4,1025.5C2617.1,1036.8 2610.6,1048.6 2607.8,1059.5C2604.9,1070.3 2603.1,1080.2 2604.4,1090.6C2605.7,1101.0 2610.5,1113.2 2615.7,1121.7C2620.9,1130.2 2626.5,1137.2 2635.5,1141.6C2644.6,1145.9 2664.3,1146.7 2670.1,1147.8" fill="none" stroke="#000" stroke-width="7.00" />
<path d="M2564.8,955.3C2569.5,952.9 2584.6,943.0 2593.1,941.1C2601.6,939.3 2609.6,940.3 2615.7,944.0C2621.8,947.7 2626.9,955.3 2629.9,963.2C2632.8,971.1 2634.7,981.2 2633.3,991.5C2631.8,1001.9 2625.6,1014.2 2621.4,1025.5C2617.1,1036.8 2610.6,1048.6 2607.8,1059.5C2604.9,1070.3 2603.1,1080.2 2604.4,1090.6C2605.7,1101.0 2610.5,1113.2 2615.7,1121.7C2620.9,1130.2 2626.5,1137.2 2635.5,1141.6C2644.6,1145.9 2664.3,1146.7 2670.1,1147.8" fill="none" stroke="#fff" stroke-width="2.60" />
<path d="M2594.3,940.9C2598.1,941.7 2610.9,941.7 2617.0,945.7C2623.1,949.7 2628.7,957.0 2631.1,964.9C2633.6,972.8 2634.0,982.8 2631.7,993.2C2629.4,1003.6 2621.8,1015.9 2617.5,1027.2C2613.3,1038.5 2607.7,1049.8 2606.2,1061.2C2604.7,1072.5 2605.3,1084.3 2608.5,1095.1C2611.7,1106.0 2618.4,1118.1 2625.5,1126.3C2632.6,1134.4 2643.4,1139.9 2651.0,1143.8C2658.5,1147.7 2667.5,1148.5 2670.8,1149.5" fill="none" stroke="#000" stroke-width="7.00" />
<path d="M2594.3,940.9C2598.1,941.7 2610.9,941.7 2617.0,945.7C2623.1,949.7 2628.7,957.0 2631.1,964.9C2633.6,972.8 2634.0,982.8 2631.7,993.2C2629.4,1003.6 2621.8,1015.9 2617.5,1027.2C2613.3,1038.5 2607.7,1049.8 2606.2,1061.2C2604.7,1072.5 2605.3,1084.3 2608.5,1095.1C2611.7,1106.0 2618.4,1118.1 2625.5,1126.3C2632.6,1134.4 2643.4,1139.9 2651.0,1143.8C2658.5,1147.7 2667.5,1148.5 2670.8,1149.5" fill="none" stroke="#fff" stroke-width="2.60" />
<path d="M2684.9,1145.5C2688.7,1142.8 2701.4,1136.5 2707.6,1129.1C2713.7,1121.7 2717.5,1110.7 2721.7,1101.4C2726.0,1092.0 2727.8,1082.5 2733.0,1073.0C2738.2,1063.6 2744.8,1052.3 2752.9,1044.7C2760.9,1037.2 2770.8,1030.7 2781.2,1027.8C2791.5,1024.8 2804.7,1024.5 2815.1,1027.2C2825.5,1029.9 2836.4,1036.6 2843.4,1044.2C2850.5,1051.7 2854.2,1062.6 2857.6,1072.5C2861.0,1082.4 2862.8,1098.4 2863.8,1103.6" fill="none" stroke="#000" stroke-width="7.00" />
<path d="M2684.9,1145.5C2688.7,1142.8 2701.4,1136.5 2707.6,1129.1C2713.7,1121.7 2717.5,1110.7 2721.7,1101.4C2726.0,1092.0 2727.8,1082.5 2733.0,1073.0C2738.2,1063.6 2744.8,1052.3 2752.9,1044.7C2760.9,1037.2 2770.8,1030.7 2781.2,1027.8C2791.5,1024.8 2804.7,1024.5 2815.1,1027.2C2825.5,1029.9 2836.4,1036.6 2843.4,1044.2C2850.5,1051.7 2854.2,1062.6 2857.6,1072.5C2861.0,1082.4 2862.8,1098.4 2863.8,1103.6" fill="none" stroke="#fff" stroke-width="2.60" />
<path d="M2600.0,1078.1L2863.2,1093.7L2907.1,1098.0L2905.7,1108.1L2860.4,1106.4L2600.0,1092.9Z" fill="#fff" stroke="#000" stroke-width="2.50" />
<path d="M2608.5,1090.9L2905.7,1104.2" fill="none" stroke="#000" stroke-width="2.00" />
<path d="M2609.9,1078.0L2720.1,1083.9M2612.9,1095.0L2720.1,1098.5M2614.3,1092.6L2718.4,1096.5" fill="none" stroke="#000" stroke-width="2.50" />
<path d="M2508.1,961.8L2520.9,944.8L2553.4,932.1L2570.4,899.5L2593.1,985.9L2610.0,1090.6L2581.7,1121.7L2559.1,1196.7L2544.9,1133.1L2513.8,987.3Z" fill="#fff" stroke="none" stroke-width="2.60" />
<path d="M2520.9,946.2L2546.4,978.8L2559.1,1039.6M2508.1,961.8L2520.9,946.2M2546.4,978.8L2564.8,954.7M2556.3,917.9L2576.1,1000.0M2560.5,916.5L2580.3,997.2M2567.6,903.8L2590.2,985.9L2604.4,1053.8M2571.8,901.0L2593.1,983.0M2556.3,917.9L2570.4,899.5M2576.1,1000.0L2590.2,985.9M2559.1,1039.6L2593.1,1019.8M2535.0,1025.5L2546.4,1031.2L2549.2,1048.1L2559.1,1039.6M2525.1,1036.8L2535.0,1025.5M2590.2,985.9L2601.6,1090.6" fill="none" stroke="#000" stroke-width="2.50" />
<path d="M2559.1,1011.3L2566.2,1008.5L2573.2,1031.2L2566.2,1034.0Z" fill="#000" stroke="#000" stroke-width="2.00" />
<ellipse cx="2571.8" cy="1028.9" rx="4.5" ry="3.4" fill="#000" stroke="#000" stroke-width="1.00"/>
<ellipse cx="2529.4" cy="1041.1" rx="1.7" ry="1.1" fill="none" stroke="#000" stroke-width="1.80"/>
<ellipse cx="2530.8" cy="1046.7" rx="1.7" ry="1.1" fill="none" stroke="#000" stroke-width="1.80"/>
<ellipse cx="2532.2" cy="1052.4" rx="1.7" ry="1.1" fill="none" stroke="#000" stroke-width="1.80"/>
<ellipse cx="2533.6" cy="1058.0" rx="1.7" ry="1.1" fill="none" stroke="#000" stroke-width="1.80"/>
<path d="M2533.6,1082.1L2581.7,1099.7L2573.8,1111.0L2542.7,1099.7Z" fill="#fff" stroke="#000" stroke-width="2.50" />
<path d="M2536.4,1090.6L2570.4,1103.3L2576.1,1099.1" fill="none" stroke="#000" stroke-width="2.50" />
<path d="M2544.9,1133.1L2581.7,1122.3L2593.1,1096.8L2610.0,1090.6" fill="none" stroke="#000" stroke-width="2.50" />
<path d="M2610.0,1135.9L2649.7,1215.1M2601.6,1155.7L2644.0,1218.0M2604.4,1150.0L2612.9,1135.9" fill="none" stroke="#000" stroke-width="2.50" />
<path d="M2328.4,925.0L2513.8,987.3L2536.4,1104.8L2544.9,1133.1L2553.4,1189.7L2559.1,1196.7L2550.6,1195.3L2383.6,1134.5L2370.9,1065.1L2349.6,970.3L2338.3,966.1Z" fill="#fff" stroke="#000" stroke-width="2.70" />
<path d="M2454.4,1021.5L2459.5,1017.6L2520.9,1040.2L2536.4,1104.8L2539.3,1133.1L2481.3,1122.3L2475.6,1114.9Z" fill="#fff" stroke="#000" stroke-width="2.50" />
<path d="M2424.6,1005.1L2402.0,1126.8" fill="none" stroke="#000" stroke-width="7.50" />
<path d="M2424.6,1005.1L2402.0,1126.8" fill="none" stroke="#fff" stroke-width="2.30" />
<path d="M2435.1,1037.4L2448.7,1100.5" fill="none" stroke="#000" stroke-width="7.00" />
<path d="M2435.1,1037.4L2448.7,1100.5" fill="none" stroke="#fff" stroke-width="1.80" />
<path d="M2471.9,1048.7L2485.5,1109.0" fill="none" stroke="#000" stroke-width="7.00" />
<path d="M2471.9,1048.7L2485.5,1109.0" fill="none" stroke="#fff" stroke-width="1.80" />
<path d="M2418.1,1083.8L2444.5,1141.6" fill="none" stroke="#000" stroke-width="7.00" />
<path d="M2418.1,1083.8L2444.5,1141.6" fill="none" stroke="#fff" stroke-width="1.80" />
<path d="M2473.6,1017.0L2496.8,997.8" fill="none" stroke="#000" stroke-width="7.00" />
<path d="M2473.6,1017.0L2496.8,997.8" fill="none" stroke="#fff" stroke-width="1.80" />
<path d="M2389.3,1096.3L2519.5,1083.8" fill="none" stroke="#000" stroke-width="2.00" />
<ellipse cx="2518.9" cy="1084.4" rx="4.0" ry="2.8" fill="#000" stroke="#000" stroke-width="1.00"/>
<ellipse cx="2331.2" cy="927.8" rx="2.3" ry="2.3" fill="none" stroke="#000" stroke-width="2.40"/>
<ellipse cx="2361.0" cy="940.6" rx="2.3" ry="2.3" fill="none" stroke="#000" stroke-width="2.40"/>
<ellipse cx="2389.3" cy="950.5" rx="2.3" ry="2.3" fill="none" stroke="#000" stroke-width="2.40"/>
<ellipse cx="2464.3" cy="977.4" rx="2.3" ry="2.3" fill="none" stroke="#000" stroke-width="2.40"/>
<ellipse cx="2505.3" cy="992.9" rx="2.3" ry="2.3" fill="none" stroke="#000" stroke-width="2.40"/>
<path d="M2320.6,897.7L2390.8,923.2L2476.7,950.6L2507.8,961.8L2514.0,986.7L2511.5,996.6L2326.2,923.2Z" fill="#fff" stroke="#000" stroke-width="3.00" />
<path d="M2336.7,912.7L2348.6,917.0L2352.3,927.0L2340.5,923.2Z" fill="#fff" stroke="#000" stroke-width="2.50" />
<ellipse cx="2330.5" cy="928.2" rx="3.2" ry="3.0" fill="none" stroke="#000" stroke-width="2.60"/>
<ellipse cx="2361.6" cy="940.0" rx="3.2" ry="3.0" fill="none" stroke="#000" stroke-width="2.60"/>
<ellipse cx="2389.6" cy="950.0" rx="3.2" ry="3.0" fill="none" stroke="#000" stroke-width="2.60"/>
<ellipse cx="2464.2" cy="978.0" rx="3.2" ry="3.0" fill="none" stroke="#000" stroke-width="2.60"/>
<ellipse cx="2505.3" cy="992.9" rx="3.2" ry="3.0" fill="none" stroke="#000" stroke-width="2.60"/>
<path d="M2412.0,931.9L2425.7,935.7L2429.4,951.8L2415.7,948.1Z" fill="#fff" stroke="#000" stroke-width="2.50" />
<path d="M2418.2,936.9L2420.7,945.6" fill="none" stroke="#000" stroke-width="5.00" />
<ellipse cx="2409.5" cy="943.1" rx="3.2" ry="3.0" fill="#000" stroke="#000" stroke-width="1.00"/>
<ellipse cx="2434.4" cy="950.6" rx="3.2" ry="3.0" fill="#000" stroke="#000" stroke-width="1.00"/>
<path d="M2320.6,897.7L2359.1,841.8L2368.5,844.9L2379.6,842.4L2385.2,833.7L2438.1,851.1L2439.3,851.1L2521.4,884.7L2537.6,893.4L2507.8,961.8L2476.7,950.6L2390.8,923.2Z" fill="#fff" stroke="#000" stroke-width="3.00" />
<path d="M2331.8,892.8L2363.5,844.9L2434.4,853.0L2390.8,918.9Z" fill="#fff" stroke="#000" stroke-width="3.40" />
<path d="M2342.3,876.8L2405.4,896.9M2352.9,860.8L2419.9,874.9M2346.5,899.3L2381.2,846.9M2361.3,905.8L2398.9,848.9M2376.1,912.3L2416.7,850.9" fill="none" stroke="#000" stroke-width="3.20" />
<path d="M2379.6,843.6L2385.2,833.7L2438.1,851.1M2324.9,895.9L2329.9,899.6L2362.2,912.0L2389.6,923.2" fill="none" stroke="#000" stroke-width="4.50" />
<ellipse cx="2353.5" cy="872.2" rx="1.5" ry="4.2" fill="#000" stroke="#000" stroke-width="1.00" transform="rotate(-15 2353.5 872.2)"/>
<ellipse cx="2339.8" cy="887.2" rx="1.5" ry="4.2" fill="#000" stroke="#000" stroke-width="1.00" transform="rotate(-15 2339.8 887.2)"/>
<ellipse cx="2395.8" cy="869.7" rx="1.5" ry="4.2" fill="#000" stroke="#000" stroke-width="1.00" transform="rotate(-15 2395.8 869.7)"/>
<ellipse cx="2374.7" cy="897.1" rx="1.5" ry="4.2" fill="#000" stroke="#000" stroke-width="1.00" transform="rotate(-15 2374.7 897.1)"/>
<ellipse cx="2384.6" cy="854.8" rx="1.5" ry="4.2" fill="#000" stroke="#000" stroke-width="1.00" transform="rotate(-15 2384.6 854.8)"/>
<path d="M2392.1,919.5L2439.3,851.1L2521.4,884.7L2476.0,950.0Z" fill="#000" stroke="#000" stroke-width="2.00" />
<path d="M2410.6,906.6l2.6,-0.8M2426.8,927.3l4.2,0.7M2445.1,874.4l3.0,-0.5M2408.1,911.0l2.0,1.0M2495.8,889.5l3.8,-0.7M2457.2,918.0l3.6,0.9M2439.2,862.2l3.2,0.4M2429.3,890.6l2.8,-1.0M2440.8,891.7l4.1,0.2M2502.1,887.3l2.9,-0.2M2455.2,892.5l1.9,-0.5M2445.7,935.5l2.2,0.1M2440.6,898.2l4.4,-0.7M2426.8,897.7l3.3,-0.5M2469.9,918.7l2.4,0.1M2442.3,861.0l1.6,-0.7M2478.0,887.4l2.1,-0.4M2438.1,921.6l1.5,0.5M2415.1,927.1l4.3,0.7M2488.0,903.6l2.3,-0.7M2423.1,893.5l2.5,1.1M2406.6,921.6l3.8,-0.3M2411.7,902.7l4.3,-0.2M2407.1,920.9l3.4,-0.8M2434.1,931.7l2.1,1.2M2440.3,927.5l3.7,-0.2M2437.1,915.8l1.5,-0.2M2476.1,930.3l3.9,-0.0M2413.9,925.1l2.1,-0.7M2474.8,930.8l1.8,-1.1M2486.6,879.6l3.8,0.6M2422.1,888.7l2.0,0.9M2509.5,888.7l2.4,0.4M2480.9,886.0l3.8,0.1M2478.7,897.0l2.2,1.0M2442.9,862.3l4.3,0.4M2407.3,920.5l3.3,0.2M2502.9,898.8l2.1,-1.2M2441.1,863.4l3.8,0.7M2476.9,877.7l4.0,-0.7M2449.1,884.3l4.1,0.7M2457.4,904.1l1.5,-1.1M2458.7,894.6l4.0,0.3M2427.1,921.2l3.7,0.1M2461.0,944.3l3.9,-1.0M2447.5,894.6l3.8,-0.5M2441.6,918.7l4.3,-1.0M2447.5,930.8l4.1,0.0M2482.1,917.1l3.7,-1.0M2448.7,865.7l2.3,0.8M2477.5,916.0l1.9,0.9M2411.5,912.1l2.9,-0.4M2490.9,911.5l3.5,-1.2M2450.8,915.3l2.9,0.5M2420.2,888.8l2.1,0.8M2470.6,919.3l4.4,0.3M2473.3,893.1l2.3,1.0M2488.7,916.6l2.3,0.9M2478.5,885.9l2.7,-0.9M2456.7,878.7l3.4,-0.9M2406.1,918.3l3.8,-0.8M2463.8,870.2l3.1,-0.4M2427.9,880.1l2.6,1.0M2454.1,927.5l2.4,-0.5M2494.4,891.3l4.3,-0.8M2459.2,895.5l3.1,1.1M2450.5,931.6l3.4,0.6M2489.0,904.2l2.3,1.0M2459.1,910.7l4.1,0.5M2424.7,905.6l2.4,0.3M2442.4,904.8l3.9,-0.5M2444.2,923.7l3.5,0.3M2433.7,881.9l1.6,1.1M2445.6,888.3l1.7,-0.6M2478.1,933.2l4.1,0.7M2417.9,916.7l2.3,1.1M2464.2,932.8l3.4,0.1M2429.1,888.7l1.7,-1.1M2416.4,901.7l1.6,1.2M2478.3,927.7l3.5,0.6M2491.3,883.3l3.1,0.5M2470.5,888.1l2.9,-0.8M2471.1,877.8l1.6,-0.8M2453.2,868.2l2.6,0.4M2458.6,871.4l2.6,-0.2M2466.2,944.4l1.5,1.1M2410.4,913.9l3.9,0.8M2447.9,920.9l2.8,0.5M2467.7,932.5l4.4,0.5M2478.6,920.4l3.9,0.2M2446.9,931.2l4.1,-0.5M2495.3,904.4l3.2,-1.1M2441.1,884.6l4.0,0.4M2479.7,926.6l3.3,-0.4M2502.9,891.9l4.1,0.9M2479.4,897.2l3.2,0.1M2454.3,935.8l2.9,0.1M2440.0,886.7l2.0,-1.0M2502.2,895.9l3.5,-0.9M2481.7,882.4l3.3,-1.2M2425.5,891.4l2.5,0.9M2493.7,895.1l2.3,-0.3M2497.8,896.2l2.3,0.5M2486.1,888.7l2.7,-0.8M2465.3,945.4l4.2,-0.5M2459.8,881.2l3.3,0.8M2457.9,917.0l2.2,0.0M2414.5,925.5l2.3,1.0M2461.0,933.9l1.7,1.2M2406.6,911.0l2.0,1.0M2495.9,902.7l2.9,-0.9M2444.0,910.6l4.4,-0.8M2473.2,929.1l1.7,1.1M2451.7,917.0l3.4,1.0M2465.7,940.3l1.9,0.5M2456.7,941.1l1.9,-0.7M2419.8,927.0l2.4,1.2M2448.8,889.8l4.4,-0.8M2491.0,881.1l3.4,0.8M2412.8,918.5l1.8,-0.1M2461.5,899.5l2.5,0.6M2493.4,887.2l1.5,-0.8M2420.8,911.9l3.1,-0.7M2448.8,887.9l2.5,0.5M2468.3,932.1l3.6,1.1M2465.2,921.2l2.6,-0.9M2447.2,908.5l2.5,-0.1M2488.2,890.0l2.7,-0.9M2450.6,916.8l4.1,-0.0M2450.5,926.2l3.2,0.2M2478.4,915.1l1.8,-1.1M2423.3,915.8l2.7,-0.4M2434.9,881.6l2.4,0.4M2451.2,913.5l3.0,-0.3M2447.7,867.0l2.8,-0.9M2480.7,878.9l4.4,-0.9M2474.2,890.4l1.6,0.8M2437.9,862.4l4.2,0.7M2464.6,895.7l2.2,-1.1M2485.5,914.6l2.0,-0.1M2460.9,921.8l4.3,0.9M2439.8,912.9l1.4,0.1M2501.2,889.1l1.6,-0.2M2429.4,927.1l4.1,-0.5M2445.3,870.2l4.2,1.0M2415.2,928.1l3.0,-0.2M2448.4,932.9l3.4,0.3M2460.1,902.2l3.5,-1.0M2423.1,894.0l1.7,0.6M2434.6,908.0l2.2,0.2M2450.6,931.2l1.6,1.1M2462.2,932.5l3.0,-0.2M2434.6,910.0l3.7,0.1M2436.3,890.8l3.3,-0.8M2467.5,907.3l3.0,0.2M2433.0,886.7l4.3,0.4M2439.9,899.2l2.3,-0.4M2431.6,908.9l2.0,-0.0M2434.9,911.1l3.4,-0.4M2497.4,886.9l2.4,0.8M2406.2,910.4l4.4,-1.1M2464.4,945.6l1.4,0.4M2435.8,888.7l2.1,1.1M2429.4,900.2l2.7,0.6M2411.4,902.4l3.8,-1.0M2470.8,887.3l4.3,-0.4M2464.7,917.1l1.4,-0.3M2473.8,886.4l2.9,1.0M2472.0,913.1l2.6,-1.0M2427.2,899.7l1.5,-0.5M2434.5,925.0l3.6,0.6M2458.3,869.6l3.4,0.9M2486.0,921.4l1.7,1.0M2488.6,886.2l2.7,0.5M2479.4,878.5l3.3,1.0M2432.8,910.5l1.5,0.9M2476.5,898.3l2.1,-0.8M2486.3,914.8l2.5,-0.2M2481.2,917.7l1.8,0.9M2449.5,940.0l3.7,-0.1M2449.4,877.9l1.8,-0.3M2462.9,923.8l3.1,0.4M2449.0,911.7l3.7,0.7M2494.0,882.6l3.4,-0.6M2435.3,883.0l3.3,-0.8M2457.5,870.1l1.5,0.8M2439.4,871.8l3.9,0.8M2441.1,889.0l1.6,-1.0M2471.2,912.3l3.3,-0.7M2433.4,867.0l3.2,-0.8M2406.7,925.0l3.8,-0.7M2432.0,933.3l2.4,0.2M2476.0,902.8l4.1,-0.4M2430.8,879.9l2.2,-1.0M2458.9,871.7l3.5,0.9M2426.4,899.7l2.1,-0.0M2414.3,895.2l4.0,0.3M2501.1,887.9l3.6,0.8M2458.8,885.3l3.9,1.0M2408.3,916.6l1.9,-0.1M2474.3,877.8l4.0,-0.3M2437.6,888.8l3.3,-0.6M2424.3,931.1l3.1,0.9M2481.0,929.0l3.8,-0.8M2503.9,897.0l4.3,0.5M2454.1,910.0l3.4,0.3M2473.5,934.0l3.0,-1.0M2411.9,901.1l2.8,-1.0M2438.3,892.2l3.9,0.6M2467.2,931.9l3.1,-0.6M2459.8,911.2l1.9,-0.0M2460.4,870.4l3.5,-0.7M2462.6,931.9l2.4,-1.1M2461.6,927.8l2.8,0.1M2411.3,916.1l2.5,0.0M2466.7,878.2l2.4,1.0M2485.3,896.9l3.8,-0.0M2412.0,905.2l3.4,0.6M2508.9,888.4l2.9,-0.0M2453.6,911.1l3.2,0.3M2441.1,924.4l1.9,-0.3M2425.6,917.2l3.3,-0.2M2437.5,922.5l3.4,-0.5M2439.6,914.6l3.5,-1.1M2447.9,865.0l3.9,-1.1M2434.9,894.0l3.7,0.7M2459.9,883.3l2.5,-0.4M2456.2,912.6l2.6,-0.9M2485.5,890.7l4.2,-0.1M2474.4,919.8l1.7,0.6M2449.8,928.6l2.9,0.7M2449.4,935.8l3.9,-1.1M2445.7,881.9l3.6,1.1M2424.9,931.7l2.9,1.2M2430.7,922.8l3.8,0.7M2492.8,911.2l3.9,0.9M2441.7,884.5l3.6,0.5M2420.7,928.4l2.2,-0.3M2444.8,934.1l2.7,-0.6M2444.1,930.2l1.7,0.9M2479.2,928.7l1.8,-0.3M2470.5,883.4l2.7,0.9M2469.6,934.6l2.9,-0.5M2430.2,904.4l3.3,-0.1M2468.5,904.9l4.0,0.5M2459.8,920.2l3.5,1.0M2452.8,909.9l3.7,-0.4M2458.0,916.7l2.5,0.8M2425.2,902.7l3.2,0.2M2447.6,904.9l3.4,0.0M2451.1,892.3l4.0,0.9M2489.2,890.1l4.1,-0.6M2437.4,927.8l1.9,-0.6M2431.7,882.9l2.6,-0.3M2454.1,899.6l1.9,-0.4M2437.5,906.0l3.1,0.1M2449.1,901.7l3.2,-0.0M2451.6,931.2l2.6,0.8M2442.9,927.3l2.3,0.3M2482.7,885.0l3.1,1.0M2464.6,909.6l1.8,-1.1M2444.0,925.4l2.1,0.7M2452.8,929.4l4.1,0.5M2439.7,894.2l2.7,0.5M2442.5,876.2l1.9,-1.0M2494.1,895.9l1.7,-0.9M2441.7,932.3l4.0,-0.8M2450.8,883.8l3.3,-0.1M2472.8,937.1l2.9,1.2M2487.1,899.7l3.9,-0.3M2478.1,892.4l1.6,0.1M2433.5,867.9l2.6,0.0M2487.0,908.8l2.9,0.2M2471.0,905.7l3.1,-0.3M2476.4,927.1l2.5,0.5M2436.1,917.8l2.5,0.9M2447.3,878.0l2.1,0.6M2427.3,894.7l1.7,0.5M2489.2,900.5l1.6,-0.0M2445.6,927.2l2.1,-0.6M2430.3,886.4l3.8,-0.8M2466.6,924.9l2.2,-0.5M2473.6,884.4l3.8,0.9M2447.3,907.0l2.3,0.9M2487.1,921.9l1.6,-0.1M2485.5,902.0l2.8,1.0M2434.8,910.3l2.0,-0.7M2474.8,909.6l2.0,-0.0M2481.5,911.7l2.1,0.9M2404.3,922.5l3.3,0.1M2467.4,903.4l2.4,0.4M2457.8,910.9l3.5,-0.5M2494.0,894.5l4.4,-1.0M2424.9,895.6l1.9,-0.1M2437.3,870.4l3.8,0.8M2460.4,927.5l3.1,-0.5M2454.9,876.3l3.9,0.9M2420.2,896.6l3.8,-0.8M2470.1,938.3l2.1,-0.6M2469.8,915.6l2.0,-0.4M2414.9,922.8l3.6,0.3M2494.1,907.5l1.5,-0.5M2449.7,887.7l4.3,-0.7M2439.3,900.6l2.7,0.6M2481.0,884.2l3.8,0.4M2437.5,870.5l3.9,0.1M2416.7,901.2l3.2,-0.7M2453.6,912.0l2.0,-0.6M2423.0,925.0l3.9,-0.6M2414.3,905.5l3.2,0.6M2468.8,932.2l1.4,-0.9M2461.6,937.3l1.6,0.6M2426.0,914.5l1.7,0.7M2485.3,923.5l3.5,0.2M2459.0,905.9l3.1,1.1M2415.2,910.0l4.4,0.5M2460.0,891.5l1.4,-0.7M2450.8,873.6l3.2,-0.0M2453.9,936.9l2.1,0.0M2481.4,904.5l1.9,-0.2M2481.3,889.6l2.8,0.3M2500.1,894.5l3.0,-1.0M2452.2,931.2l3.4,-0.1M2441.7,878.9l2.6,-0.3M2412.1,903.8l2.5,0.9M2445.6,911.5l4.1,0.2M2499.0,898.7l3.8,1.2M2487.5,898.2l2.9,0.4M2488.8,880.4l2.9,-0.2M2487.9,899.9l3.4,-1.0M2440.2,900.0l4.3,0.5M2450.0,910.7l4.1,0.1M2454.1,883.0l2.7,0.6M2456.0,926.9l3.9,1.2M2465.8,903.0l4.4,0.7M2475.5,877.5l1.8,0.8M2455.1,935.0l2.3,0.7M2463.3,892.2l2.8,-0.5M2406.8,923.2l2.4,1.2M2439.8,926.8l4.0,-0.5M2422.8,906.2l1.6,0.2M2435.0,888.0l3.1,0.0M2444.0,879.9l2.1,0.9M2486.0,897.2l2.4,0.2M2464.5,915.1l4.3,-0.0M2470.4,910.7l2.9,-0.3M2460.4,943.0l2.9,0.8M2480.1,923.9l3.8,-0.6M2485.3,900.7l3.6,-0.5M2421.8,901.2l4.1,0.2M2468.1,882.2l2.7,1.1M2495.3,903.9l2.4,-0.4M2483.1,887.9l3.7,0.5M2418.9,895.8l3.7,0.9M2441.6,893.4l3.9,-0.7M2448.0,924.2l2.8,0.6M2469.9,946.9l2.2,-0.0M2423.3,929.2l2.9,1.1M2409.8,910.4l4.0,1.0M2456.4,902.0l4.0,-0.1M2448.3,902.5l2.1,-0.5M2413.5,896.5l2.8,0.7M2442.4,864.1l2.5,0.9M2469.6,933.4l2.3,0.4M2452.7,917.2l1.7,0.0M2453.3,894.0l3.6,0.4M2486.2,906.1l1.8,-0.8M2418.1,905.6l4.1,0.8M2464.6,871.3l4.0,1.0M2496.4,894.7l3.5,-1.2M2427.6,905.2l3.0,0.2M2454.7,865.4l4.3,-0.8M2453.7,876.2l3.1,0.3M2441.2,933.9l3.4,-0.6M2446.1,931.7l2.2,-0.8M2449.8,920.9l2.8,-0.3M2414.4,918.2l3.2,-0.2M2467.6,932.4l3.0,-0.4M2438.3,923.9l2.2,0.8M2434.2,868.7l1.8,0.4M2440.3,895.1l2.9,-0.9M2459.3,905.5l4.2,0.3M2460.9,903.0l3.4,-0.4M2476.6,875.7l3.2,-1.1M2460.7,939.3l2.5,1.2M2467.7,898.4l3.0,0.7M2443.5,903.5l1.6,-0.8M2461.9,930.2l1.9,0.2M2419.9,899.7l1.9,-0.2M2481.7,888.1l2.1,-1.0M2421.9,924.5l3.0,-1.2M2451.8,932.8l2.1,-1.1M2434.8,866.5l3.6,-1.1M2470.5,876.2l2.4,-0.7M2463.7,877.1l3.1,-0.4M2425.3,916.8l2.2,0.6M2493.7,888.8l2.3,-0.4M2464.3,881.0l2.1,-0.1M2429.8,916.7l2.5,-0.2M2420.2,901.6l3.9,0.1M2461.5,913.6l1.7,-0.5M2447.1,910.4l4.0,-0.1M2459.6,910.7l3.7,-0.4M2453.4,884.9l1.5,-1.0M2426.3,928.1l2.1,0.2M2462.3,884.0l3.6,-0.5M2468.4,932.2l3.1,-0.7M2481.9,922.9l1.6,0.8M2469.5,938.7l3.0,-0.9M2436.4,913.0l3.2,0.7M2448.5,869.1l3.1,0.7M2467.7,931.6l2.1,0.2M2458.1,902.5l4.0,-0.9M2495.4,905.7l2.1,-0.4M2482.6,904.7l2.9,-1.0M2475.0,913.6l4.0,-1.0M2484.6,921.6l3.6,0.3M2440.0,923.4l2.7,0.0M2421.0,888.6l3.8,-0.1" stroke="#fff" stroke-width="1.9" fill="none" stroke-linecap="butt"/>
<ellipse cx="2462.4" cy="886.3" rx="12.2" ry="8.2" fill="#000" stroke="#000" stroke-width="1.00"/>
<ellipse cx="2462.4" cy="881.6" rx="9.9" ry="7.2" fill="#fff" stroke="#000" stroke-width="3.40"/>
<ellipse cx="2462.4" cy="881.6" rx="5.0" ry="3.6" fill="#fff" stroke="#000" stroke-width="3.40"/>
<ellipse cx="2440.0" cy="917.4" rx="12.2" ry="8.2" fill="#000" stroke="#000" stroke-width="1.00"/>
<ellipse cx="2440.0" cy="912.7" rx="9.9" ry="7.2" fill="#fff" stroke="#000" stroke-width="3.40"/>
<ellipse cx="2440.0" cy="912.7" rx="5.0" ry="3.6" fill="#fff" stroke="#000" stroke-width="3.40"/>
<path d="M2477.3,948.7L2520.2,887.2L2537.6,893.4L2496.6,955.6Z" fill="#fff" stroke="#000" stroke-width="4.00" />
<path d="M2491.4,928.4L2510.1,935.0M2505.6,908.1L2523.7,914.5M2486.9,952.1L2528.9,890.3" fill="none" stroke="#000" stroke-width="4.00" />
<path d="M2491.6,933.2L2499.0,935.7" fill="none" stroke="#000" stroke-width="3.00" />
<path d="M2520.2,934.4C2520.4,936.1 2519.8,942.1 2521.4,944.4C2523.1,946.7 2527.0,948.1 2530.1,948.1C2533.3,948.1 2538.2,946.7 2540.1,944.4C2542.0,942.1 2541.1,936.1 2541.3,934.4" fill="#fff" stroke="#000" stroke-width="2.50" />
<ellipse cx="2530.8" cy="933.8" rx="9.7" ry="8.2" fill="#000" stroke="#000" stroke-width="1.00"/>
<ellipse cx="2531.4" cy="933.4" rx="5.0" ry="4.1" fill="#fff" stroke="#000" stroke-width="1.00"/>
<ellipse cx="2551.3" cy="889.0" rx="13.1" ry="5.0" fill="#000" stroke="#000" stroke-width="1.00" transform="rotate(-5 2551.3 889.0)"/>
<ellipse cx="2550.7" cy="888.4" rx="7.5" ry="2.1" fill="#fff" stroke="#000" stroke-width="1.00" transform="rotate(-5 2550.7 888.4)"/>
<path d="M2530.1,897.1L2540.1,893.4L2552.5,899.6L2550.0,903.3L2538.8,902.1Z" fill="#fff" stroke="#000" stroke-width="3.20" />
<path d="M2532.6,907.1L2537.6,914.5L2533.9,919.5M2528.9,904.6L2526.4,914.5" fill="none" stroke="#000" stroke-width="4.00" />
<path d="M2569.9,898.4L2601.0,996.6M2572.4,899.6L2603.5,996.6M2558.7,919.5L2583.6,996.6M2562.5,918.3L2587.4,996.6M2558.7,919.5L2569.9,898.4M2541.3,945.6L2565.0,966.8M2520.2,944.4L2527.7,996.6M2507.8,961.8L2520.2,944.4M2543.8,974.2L2565.0,966.8M2540.1,946.9L2546.3,996.6" fill="none" stroke="#000" stroke-width="2.50" />
<path d="M2402.0,961.0L2407.7,957.6L2427.5,963.2L2426.6,974.5L2394.9,1074.2L2386.4,1104.8L2358.1,1175.5L2338.3,1172.7L2363.8,1099.7L2370.9,1068.0Z" fill="#fff" stroke="#000" stroke-width="2.50" />
<path d="M2407.7,963.2L2376.5,1068.0M2421.8,968.9L2392.1,1073.6M2370.9,1068.0L2394.9,1074.2M2363.8,1099.7L2386.4,1104.8M2375.1,1106.2L2348.2,1174.1" fill="none" stroke="#000" stroke-width="2.50" />
<path d="M2402.0,961.0L2407.7,957.6L2427.5,963.2" fill="none" stroke="#000" stroke-width="5.50" />
<ellipse cx="2403.4" cy="961.8" rx="2.3" ry="2.3" fill="#000" stroke="#000" stroke-width="1.00"/>
<ellipse cx="2426.6" cy="965.5" rx="2.3" ry="2.3" fill="#000" stroke="#000" stroke-width="1.00"/>
<path d="M2341.8,1174.1L2287.6,1256.8L2279.4,1260.9L2284.6,1267.9L2294.9,1265.0L2334.5,1238.6L2365.2,1180.6Z" fill="#fff" stroke="#000" stroke-width="2.50" />
<path d="M2355.0,1178.5L2293.4,1264.4M2349.1,1177.0L2324.2,1235.7M2363.8,1181.4L2334.5,1238.6M2290.5,1261.5L2333.0,1241.5" fill="none" stroke="#000" stroke-width="2.50" />
<path d="M2794.2,1089.5C2793.3,1103.1 2793.5,1144.4 2794.2,1157.4C2794.8,1170.4 2795.4,1164.4 2798.1,1167.3C2800.9,1170.2 2801.4,1171.6 2810.9,1174.9C2820.3,1178.3 2841.3,1184.6 2854.8,1187.4C2868.2,1190.2 2882.8,1192.0 2891.6,1191.9C2900.3,1191.9 2903.3,1189.6 2907.1,1187.1C2910.9,1184.7 2912.9,1192.1 2914.2,1177.2C2915.5,1162.4 2916.2,1112.1 2914.8,1098.0C2913.3,1083.8 2911.0,1094.7 2905.7,1092.3C2900.4,1089.9 2889.7,1086.2 2883.1,1083.8C2876.5,1081.4 2873.2,1079.9 2866.1,1078.1C2859.0,1076.3 2849.1,1074.1 2840.6,1073.0C2832.1,1072.0 2822.0,1071.2 2815.1,1071.6C2808.3,1072.1 2803.0,1072.9 2799.6,1075.9C2796.1,1078.8 2795.1,1075.9 2794.2,1089.5Z" fill="#fff" stroke="#000" stroke-width="2.90" />
<path d="M2794.7,1095.1C2796.3,1096.5 2798.5,1101.0 2803.8,1103.6C2809.1,1106.2 2818.0,1108.7 2826.4,1110.7C2834.9,1112.7 2845.3,1114.6 2854.8,1115.5C2864.2,1116.4 2875.0,1116.9 2883.1,1116.4C2891.1,1115.8 2897.7,1114.2 2902.9,1112.1C2908.1,1110.0 2912.3,1105.0 2914.2,1103.6" fill="none" stroke="#000" stroke-width="2.50" />
<path d="M2794.7,1126.3C2797.2,1127.9 2804.2,1133.3 2809.5,1136.2C2814.7,1139.0 2818.9,1140.9 2826.4,1143.2C2834.0,1145.6 2845.3,1148.6 2854.8,1150.3C2864.2,1152.0 2875.5,1153.4 2883.1,1153.4C2890.6,1153.4 2894.9,1152.0 2900.0,1150.3C2905.2,1148.6 2911.8,1144.4 2914.2,1143.2" fill="none" stroke="#000" stroke-width="2.50" />
<path d="M2798.1,1132.4l0,25.2M2802.7,1132.9l0,11.4M2807.2,1138.1l0,21.8M2811.7,1140.1l0,14.9M2816.3,1141.8l0,19.7M2820.8,1143.7l0,12.5M2825.3,1145.1l0,16.3M2829.8,1147.3l0,25.9M2834.4,1149.0l0,18.7M2838.9,1148.8l0,14.3M2843.4,1148.7l0,10.4M2848.0,1151.1l0,15.1M2852.5,1152.0l0,24.3M2857.0,1153.2l0,19.0M2861.5,1152.9l0,10.4M2866.1,1153.6l0,12.2M2870.6,1154.6l0,26.0M2875.1,1155.6l0,12.9M2879.7,1156.7l0,22.7M2884.2,1156.4l0,24.5M2888.7,1155.7l0,22.6M2893.2,1153.7l0,25.7M2897.8,1154.6l0,12.6M2902.3,1152.5l0,21.4M2906.8,1149.4l0,18.5M2911.4,1147.2l0,24.8M2894.4,1153.3l0,28.3M2896.9,1152.6l0,28.8M2899.5,1153.1l0,24.6M2902.0,1151.4l0,29.2M2904.6,1150.4l0,24.9M2907.1,1148.3l0,23.2M2909.7,1147.8l0,21.7M2912.2,1146.9l0,22.7" stroke="#000" stroke-width="1.6" fill="none"/>
<ellipse cx="2826.4" cy="1130.5" rx="7.9" ry="7.9" fill="#000" stroke="#000" stroke-width="1.00"/>
<ellipse cx="2827.0" cy="1129.9" rx="4.2" ry="4.2" fill="#fff" stroke="#000" stroke-width="1.00"/>
<ellipse cx="2827.6" cy="1130.5" rx="2.0" ry="2.0" fill="#000" stroke="#000" stroke-width="1.00"/>
<ellipse cx="2846.3" cy="1137.6" rx="7.9" ry="7.9" fill="#000" stroke="#000" stroke-width="1.00"/>
<ellipse cx="2846.8" cy="1137.0" rx="4.2" ry="4.2" fill="#fff" stroke="#000" stroke-width="1.00"/>
<ellipse cx="2847.4" cy="1137.6" rx="2.0" ry="2.0" fill="#000" stroke="#000" stroke-width="1.00"/>
<path d="M2885.9,1088.0L2900.0,1085.2L2919.9,1090.9L2919.9,1100.8L2905.7,1103.6L2888.7,1095.1Z" fill="#fff" stroke="#000" stroke-width="2.50" />
<path d="M2904.3,1088.0L2917.0,1085.2L2919.3,1098.0L2907.1,1100.8Z" fill="#fff" stroke="#000" stroke-width="2.50" />
<path d="M2864.7,1075.3L2866.1,1106.4M2870.3,1095.1L2871.7,1109.3" fill="none" stroke="#000" stroke-width="3.00" />
<ellipse cx="2865.5" cy="1113.5" rx="5.1" ry="2.8" fill="#000" stroke="#000" stroke-width="1.00"/>
<path d="M2798.1,1090.0L2863.2,1093.7L2907.1,1098.0L2905.7,1108.1L2860.4,1106.4L2798.1,1103.1Z" fill="#fff" stroke="none" stroke-width="2.60" />
<path d="M2769.8,1088.6L2863.2,1093.7L2907.1,1098.0M2769.8,1101.6L2860.4,1106.4L2905.7,1108.1M2769.8,1099.7L2905.7,1104.2" fill="none" stroke="#000" stroke-width="2.50" />
<path d="M2864.7,1095.1C2864.2,1087.6 2864.4,1064.5 2861.8,1049.8C2859.2,1035.2 2855.0,1020.1 2849.1,1007.4C2843.2,994.6 2833.1,983.3 2826.4,973.4C2819.8,963.5 2813.2,956.0 2809.5,947.9C2805.7,939.9 2803.3,931.7 2803.8,925.3C2804.3,918.9 2807.6,913.0 2812.3,909.7C2817.0,906.4 2824.1,904.3 2832.1,905.5C2840.1,906.7 2851.0,911.6 2860.4,916.8C2869.8,922.0 2880.7,929.1 2888.7,936.6C2896.7,944.2 2903.8,953.1 2908.5,962.1C2913.3,971.1 2916.6,981.4 2917.0,990.4C2917.5,999.4 2914.2,1008.3 2911.4,1015.9C2908.5,1023.4 2903.1,1028.1 2900.0,1035.7C2897.0,1043.2 2894.6,1053.1 2893.0,1061.2C2891.3,1069.2 2890.6,1080.0 2890.1,1083.8" fill="none" stroke="#000" stroke-width="2.80" />
</g>
<g stroke="#808080" stroke-width="1.1" fill="none"><line x1="404.9" y1="776.5" x2="458.6" y2="826.4"/><path d="M458.6,826.4L452.0,822.9L454.6,820.1Z" fill="#808080" stroke="none"/>
<line x1="615.3" y1="758.9" x2="553.0" y2="829.8"/><path d="M553.0,829.8L556.3,823.1L559.2,825.6Z" fill="#808080" stroke="none"/>
<line x1="728.7" y1="831.0" x2="644.8" y2="843.3"/><path d="M644.8,843.3L651.7,840.3L652.3,844.2Z" fill="#808080" stroke="none"/>
<line x1="698.5" y1="909.4" x2="612.0" y2="869.8"/><path d="M612.0,869.8L619.4,871.1L617.8,874.6Z" fill="#808080" stroke="none"/>
<line x1="688.0" y1="963.6" x2="594.2" y2="878.5"/><path d="M594.2,878.5L600.9,881.9L598.3,884.8Z" fill="#808080" stroke="none"/>
<line x1="198.1" y1="904.6" x2="236.7" y2="955.6"/><path d="M236.7,955.6L230.8,951.0L233.9,948.7Z" fill="#808080" stroke="none"/>
<line x1="199.5" y1="1230.8" x2="241.0" y2="1197.8"/><path d="M241.0,1197.8L236.5,1203.8L234.1,1200.8Z" fill="#808080" stroke="none"/>
<line x1="326.6" y1="1284.8" x2="400.7" y2="1286.4"/><path d="M400.7,1286.4L393.4,1288.2L393.5,1284.3Z" fill="#808080" stroke="none"/>
<line x1="302.4" y1="1419.0" x2="231.0" y2="1360.7"/><path d="M231.0,1360.7L237.8,1363.8L235.4,1366.8Z" fill="#808080" stroke="none"/>
<line x1="491.6" y1="1375.8" x2="372.8" y2="1337.8"/><path d="M372.8,1337.8L380.3,1338.2L379.1,1341.8Z" fill="#808080" stroke="none"/>
<line x1="491.6" y1="1375.8" x2="520.5" y2="1302.4"/><path d="M520.5,1302.4L519.6,1309.9L516.1,1308.4Z" fill="#808080" stroke="none"/>
<line x1="673.8" y1="1300.0" x2="663.0" y2="1252.0"/><path d="M663.0,1252.0L666.5,1258.6L662.7,1259.5Z" fill="#808080" stroke="none"/>
<line x1="1430.6" y1="777.1" x2="1495.3" y2="820.8"/><path d="M1495.3,820.8L1488.2,818.3L1490.4,815.1Z" fill="#808080" stroke="none"/>
<line x1="1552.7" y1="740.0" x2="1599.0" y2="824.0"/><path d="M1599.0,824.0L1593.8,818.6L1597.2,816.7Z" fill="#808080" stroke="none"/>
<line x1="1613.4" y1="697.3" x2="1626.4" y2="858.5"/><path d="M1626.4,858.5L1623.9,851.4L1627.7,851.1Z" fill="#808080" stroke="none"/>
<line x1="1646.0" y1="743.5" x2="1647.0" y2="850.3"/><path d="M1647.0,850.3L1645.0,843.1L1648.9,843.0Z" fill="#808080" stroke="none"/>
<line x1="1671.2" y1="777.1" x2="1675.8" y2="824.7"/><path d="M1675.8,824.7L1673.2,817.7L1677.0,817.3Z" fill="#808080" stroke="none"/>
<line x1="1217.6" y1="904.0" x2="1274.6" y2="952.1"/><path d="M1274.6,952.1L1267.8,948.9L1270.3,946.0Z" fill="#808080" stroke="none"/>
<line x1="1235.9" y1="1230.8" x2="1277.8" y2="1197.2"/><path d="M1277.8,1197.2L1273.4,1203.2L1270.9,1200.2Z" fill="#808080" stroke="none"/>
<line x1="1379.6" y1="1274.5" x2="1441.5" y2="1288.2"/><path d="M1441.5,1288.2L1434.0,1288.5L1434.8,1284.8Z" fill="#808080" stroke="none"/>
<line x1="1340.2" y1="1426.6" x2="1267.5" y2="1364.8"/><path d="M1267.5,1364.8L1274.3,1368.0L1271.8,1371.0Z" fill="#808080" stroke="none"/>
<line x1="1500.5" y1="1369.4" x2="1410.4" y2="1342.0"/><path d="M1410.4,1342.0L1417.9,1342.3L1416.8,1346.0Z" fill="#808080" stroke="none"/>
<line x1="1500.5" y1="1369.4" x2="1554.4" y2="1297.1"/><path d="M1554.4,1297.1L1551.6,1304.1L1548.5,1301.8Z" fill="#808080" stroke="none"/>
<line x1="1719.5" y1="1300.8" x2="1708.8" y2="1253.2"/><path d="M1708.8,1253.2L1712.3,1259.8L1708.5,1260.7Z" fill="#808080" stroke="none"/>
<line x1="2450.4" y1="665.9" x2="2461.8" y2="872.9"/><path d="M2461.8,872.9L2459.5,865.8L2463.3,865.6Z" fill="#808080" stroke="none"/>
<line x1="2450.4" y1="665.9" x2="2441.9" y2="902.2"/><path d="M2441.9,902.2L2440.2,894.9L2444.1,895.0Z" fill="#808080" stroke="none"/>
<line x1="2538.0" y1="739.3" x2="2495.6" y2="877.5"/><path d="M2495.6,877.5L2495.9,870.0L2499.6,871.1Z" fill="#808080" stroke="none"/>
<line x1="2360.2" y1="814.8" x2="2387.0" y2="881.6"/><path d="M2387.0,881.6L2382.5,875.6L2386.1,874.2Z" fill="#808080" stroke="none"/>
<line x1="2594.5" y1="798.1" x2="2555.1" y2="882.7"/><path d="M2555.1,882.7L2556.4,875.3L2559.9,876.9Z" fill="#808080" stroke="none"/>
<line x1="2610.8" y1="844.8" x2="2540.5" y2="927.2"/><path d="M2540.5,927.2L2543.7,920.4L2546.7,922.9Z" fill="#808080" stroke="none"/>
<line x1="2765.3" y1="936.6" x2="2811.8" y2="960.8"/><path d="M2811.8,960.8L2804.5,959.2L2806.3,955.7Z" fill="#808080" stroke="none"/>
<line x1="2700.6" y1="1239.5" x2="2668.1" y2="1102.4"/><path d="M2668.1,1102.4L2671.6,1109.0L2667.9,1109.9Z" fill="#808080" stroke="none"/>
<line x1="2850.4" y1="1372.6" x2="2892.7" y2="1193.7"/><path d="M2892.7,1193.7L2892.9,1201.2L2889.2,1200.3Z" fill="#808080" stroke="none"/>
<line x1="2520.8" y1="1449.9" x2="2574.7" y2="1345.0"/><path d="M2574.7,1345.0L2573.1,1352.3L2569.7,1350.6Z" fill="#808080" stroke="none"/>
<line x1="2308.1" y1="1409.9" x2="2342.9" y2="1335.1"/><path d="M2342.9,1335.1L2341.6,1342.5L2338.1,1340.9Z" fill="#808080" stroke="none"/></g>
<text x="407.8" y="45.7" font-size="35.2" textLength="145.6" lengthAdjust="spacingAndGlyphs" fill="#000">Apollo 12</text>
<text x="1427.8" y="45.7" font-size="35.2" textLength="145.6" lengthAdjust="spacingAndGlyphs" fill="#000">Apollo 14</text>
<text x="2447.8" y="45.7" font-size="35.2" textLength="145.6" lengthAdjust="spacingAndGlyphs" fill="#000">Apollo 15</text>
<text x="210.5" y="569.9" font-size="12" textLength="139.0" lengthAdjust="spacingAndGlyphs" fill="#1b1f4b" stroke="#1b1f4b" stroke-width="0.3">AS12-47-6922 (Ausschnitt)</text>
<text x="1230.5" y="569.9" font-size="12" textLength="138.0" lengthAdjust="spacingAndGlyphs" fill="#1b1f4b" stroke="#1b1f4b" stroke-width="0.3">AS14-67-9372 (Ausschnitt)</text>
<text x="2250.5" y="569.9" font-size="12" textLength="142.0" lengthAdjust="spacingAndGlyphs" fill="#1b1f4b" stroke="#1b1f4b" stroke-width="0.3">AS15-86-11596 (Ausschnitt)</text>
<text x="88.0" y="1538.9" font-size="23.2" textLength="788.6" lengthAdjust="spacingAndGlyphs" fill="#000">Abbildung 6-3 – Der Tieftemperatur-Ionendetektor auf der Mondoberfläche</text>
<text x="1184.9" y="1538.9" font-size="23.2" textLength="634.9" lengthAdjust="spacingAndGlyphs" fill="#000">Abbildung 8-3a – Schema des SIDE auf der Mondoberfläche</text>
<text x="2201.1" y="1538.9" font-size="23.2" textLength="643.6" lengthAdjust="spacingAndGlyphs" fill="#000">Abbildung 12-3a – Schema des SIDE auf der Mondoberfläche</text>
<text x="677.0" y="1592.4" font-size="12" textLength="202.0" lengthAdjust="spacingAndGlyphs" fill="#000" stroke="#000" stroke-width="0.3">APOLLO 12 Preliminary Science Report</text>
<text x="1697.4" y="1592.4" font-size="12" textLength="202.0" lengthAdjust="spacingAndGlyphs" fill="#000" stroke="#000" stroke-width="0.3">APOLLO 14 Preliminary Science Report</text>
<text x="2717.8" y="1592.4" font-size="12" textLength="202.0" lengthAdjust="spacingAndGlyphs" fill="#000" stroke="#000" stroke-width="0.3">APOLLO 15 Preliminary Science Report</text>
<text x="307.2" y="734.2" font-size="15.2" textLength="165.4" lengthAdjust="spacingAndGlyphs" fill="#111" stroke="#111" stroke-width="0.3">verspiegelte Oberfläche</text>
<text x="342.2" y="753.2" font-size="15.2" textLength="130.4" lengthAdjust="spacingAndGlyphs" fill="#111" stroke="#111" stroke-width="0.3">(Hitzeschutz, nach</text>
<text x="301.0" y="772.2" font-size="15.2" textLength="171.6" lengthAdjust="spacingAndGlyphs" fill="#111" stroke="#111" stroke-width="0.3">Öffnung der Abdeckung)</text>
<text x="549.4" y="734.4" font-size="15.2" textLength="110.3" lengthAdjust="spacingAndGlyphs" fill="#111" stroke="#111" stroke-width="0.3">geerdetes Gitter</text>
<text x="549.4" y="753.4" font-size="15.2" textLength="175.9" lengthAdjust="spacingAndGlyphs" fill="#111" stroke="#111" stroke-width="0.3">über der Detektoröffnung</text>
<text x="731.0" y="836.0" font-size="15.2" textLength="233.3" lengthAdjust="spacingAndGlyphs" fill="#111" stroke="#111" stroke-width="0.3">Transporthülse für Drahtgitternetz</text>
<text x="701.7" y="914.9" font-size="15.2" textLength="97.3" lengthAdjust="spacingAndGlyphs" fill="#111" stroke="#111" stroke-width="0.3">Wasserwaage</text>
<text x="691.7" y="967.7" font-size="15.2" textLength="206.7" lengthAdjust="spacingAndGlyphs" fill="#111" stroke="#111" stroke-width="0.3">Buchse für Universalwerkzeug</text>
<text x="126.0" y="880.1" font-size="15.2" textLength="102.2" lengthAdjust="spacingAndGlyphs" fill="#111" stroke="#111" stroke-width="0.3">Henkel für das</text>
<text x="126.0" y="899.1" font-size="15.2" textLength="173.2" lengthAdjust="spacingAndGlyphs" fill="#111" stroke="#111" stroke-width="0.3">Absetzen auf dem Boden</text>
<text x="20.6" y="1246.3" font-size="15.2" textLength="194.0" lengthAdjust="spacingAndGlyphs" fill="#111" stroke="#111" stroke-width="0.3">Kaltkathoden-Vakuummeter</text>
<text x="93.3" y="1265.1" font-size="15.2" textLength="48.5" lengthAdjust="spacingAndGlyphs" fill="#111" stroke="#111" stroke-width="0.3">(CCIG)</text>
<text x="252.3" y="1289.1" font-size="15.2" textLength="69.3" lengthAdjust="spacingAndGlyphs" fill="#111" stroke="#111" stroke-width="0.3">Kabelrolle</text>
<text x="306.5" y="1426.1" font-size="15.2" textLength="48.5" lengthAdjust="spacingAndGlyphs" fill="#111" stroke="#111" stroke-width="0.3">Stecker</text>
<text x="458.3" y="1392.0" font-size="15.2" textLength="73.9" lengthAdjust="spacingAndGlyphs" fill="#111" stroke="#111" stroke-width="0.3">Flachkabel</text>
<text x="631.5" y="1313.8" font-size="15.2" textLength="128.3" lengthAdjust="spacingAndGlyphs" fill="#111" stroke="#111" stroke-width="0.3">Drahtgitternetz zur</text>
<text x="631.5" y="1332.8" font-size="15.2" textLength="239.2" lengthAdjust="spacingAndGlyphs" fill="#111" stroke="#111" stroke-width="0.3">elektromagnetischen Abschirmung</text>
<text x="1261.7" y="780.8" font-size="15.2" textLength="165.4" lengthAdjust="spacingAndGlyphs" fill="#111" stroke="#111" stroke-width="0.3">verspiegelte Oberfläche</text>
<text x="1296.7" y="799.8" font-size="15.2" textLength="130.4" lengthAdjust="spacingAndGlyphs" fill="#111" stroke="#111" stroke-width="0.3">(Hitzeschutz, nach</text>
<text x="1255.5" y="818.7" font-size="15.2" textLength="171.6" lengthAdjust="spacingAndGlyphs" fill="#111" stroke="#111" stroke-width="0.3">Öffnung der Abdeckung)</text>
<text x="1466.5" y="716.7" font-size="15.2" textLength="110.3" lengthAdjust="spacingAndGlyphs" fill="#111" stroke="#111" stroke-width="0.3">geerdetes Gitter</text>
<text x="1400.9" y="735.7" font-size="15.2" textLength="175.9" lengthAdjust="spacingAndGlyphs" fill="#111" stroke="#111" stroke-width="0.3">über der Detektoröffnung</text>
<text x="1601.2" y="693.2" font-size="15.2" textLength="206.3" lengthAdjust="spacingAndGlyphs" fill="#111" stroke="#111" stroke-width="0.3">Buchse für Universalwerkzeug</text>
<text x="1627.5" y="738.9" font-size="15.2" textLength="96.5" lengthAdjust="spacingAndGlyphs" fill="#111" stroke="#111" stroke-width="0.3">Wasserwaage</text>
<text x="1661.4" y="773.0" font-size="15.2" textLength="233.1" lengthAdjust="spacingAndGlyphs" fill="#111" stroke="#111" stroke-width="0.3">Transporthülse für Drahtgitternetz</text>
<text x="1146.5" y="879.8" font-size="15.2" textLength="102.2" lengthAdjust="spacingAndGlyphs" fill="#111" stroke="#111" stroke-width="0.3">Henkel für das</text>
<text x="1146.5" y="898.8" font-size="15.2" textLength="173.1" lengthAdjust="spacingAndGlyphs" fill="#111" stroke="#111" stroke-width="0.3">Absetzen auf dem Boden</text>
<text x="1057.3" y="1245.6" font-size="15.2" textLength="194.2" lengthAdjust="spacingAndGlyphs" fill="#111" stroke="#111" stroke-width="0.3">Kaltkathoden-Vakuummeter</text>
<text x="1130.0" y="1264.4" font-size="15.2" textLength="48.5" lengthAdjust="spacingAndGlyphs" fill="#111" stroke="#111" stroke-width="0.3">(CCIG)</text>
<text x="1305.2" y="1278.8" font-size="15.2" textLength="69.3" lengthAdjust="spacingAndGlyphs" fill="#111" stroke="#111" stroke-width="0.3">Kabelrolle</text>
<text x="1343.7" y="1433.0" font-size="15.2" textLength="48.4" lengthAdjust="spacingAndGlyphs" fill="#111" stroke="#111" stroke-width="0.3">Stecker</text>
<text x="1467.5" y="1384.8" font-size="15.2" textLength="74.5" lengthAdjust="spacingAndGlyphs" fill="#111" stroke="#111" stroke-width="0.3">Flachkabel</text>
<text x="1677.4" y="1315.0" font-size="15.2" textLength="127.4" lengthAdjust="spacingAndGlyphs" fill="#111" stroke="#111" stroke-width="0.3">Drahtgitternetz zur</text>
<text x="1677.4" y="1333.7" font-size="15.2" textLength="239.0" lengthAdjust="spacingAndGlyphs" fill="#111" stroke="#111" stroke-width="0.3">elektromagnetischen Abschirmung</text>
<text x="2385.9" y="660.9" font-size="15.2" textLength="128.7" lengthAdjust="spacingAndGlyphs" fill="#111" stroke="#111" stroke-width="0.3">Detektoröffnungen</text>
<text x="2516.2" y="715.1" font-size="15.2" textLength="110.5" lengthAdjust="spacingAndGlyphs" fill="#111" stroke="#111" stroke-width="0.3">geerdetes Gitter</text>
<text x="2516.2" y="734.1" font-size="15.2" textLength="175.9" lengthAdjust="spacingAndGlyphs" fill="#111" stroke="#111" stroke-width="0.3">über der Detektoröffnung</text>
<text x="2220.7" y="772.3" font-size="15.2" textLength="165.4" lengthAdjust="spacingAndGlyphs" fill="#111" stroke="#111" stroke-width="0.3">verspiegelte Oberfläche</text>
<text x="2255.7" y="791.3" font-size="15.2" textLength="130.4" lengthAdjust="spacingAndGlyphs" fill="#111" stroke="#111" stroke-width="0.3">(Hitzeschutz, nach</text>
<text x="2214.5" y="810.2" font-size="15.2" textLength="171.6" lengthAdjust="spacingAndGlyphs" fill="#111" stroke="#111" stroke-width="0.3">Öffnung der Abdeckung)</text>
<text x="2566.6" y="792.9" font-size="15.2" textLength="96.5" lengthAdjust="spacingAndGlyphs" fill="#111" stroke="#111" stroke-width="0.3">Wasserwaage</text>
<text x="2615.4" y="847.7" font-size="15.2" textLength="206.4" lengthAdjust="spacingAndGlyphs" fill="#111" stroke="#111" stroke-width="0.3">Buchse für Universalwerkzeug</text>
<text x="2620.1" y="912.8" font-size="15.2" textLength="167.4" lengthAdjust="spacingAndGlyphs" fill="#111" stroke="#111" stroke-width="0.3">Henkel für das Absetzen</text>
<text x="2681.2" y="931.7" font-size="15.2" textLength="106.3" lengthAdjust="spacingAndGlyphs" fill="#111" stroke="#111" stroke-width="0.3">auf dem Boden</text>
<text x="2684.1" y="1253.2" font-size="15.2" textLength="125.4" lengthAdjust="spacingAndGlyphs" fill="#111" stroke="#111" stroke-width="0.3">Transporthülse für</text>
<text x="2684.1" y="1272.2" font-size="15.2" textLength="101.8" lengthAdjust="spacingAndGlyphs" fill="#111" stroke="#111" stroke-width="0.3">Drahtgitternetz</text>
<text x="2764.2" y="1387.5" font-size="15.2" textLength="194.0" lengthAdjust="spacingAndGlyphs" fill="#111" stroke="#111" stroke-width="0.3">Kaltkathoden-Vakuummeter</text>
<text x="2836.8" y="1406.4" font-size="15.2" textLength="48.5" lengthAdjust="spacingAndGlyphs" fill="#111" stroke="#111" stroke-width="0.3">(CCIG)</text>
<text x="2473.7" y="1464.3" font-size="15.2" textLength="73.9" lengthAdjust="spacingAndGlyphs" fill="#111" stroke="#111" stroke-width="0.3">Flachkabel</text>
<text x="2191.5" y="1425.2" font-size="15.2" textLength="127.6" lengthAdjust="spacingAndGlyphs" fill="#111" stroke="#111" stroke-width="0.3">Drahtgitternetz zur</text>
<text x="2191.5" y="1444.2" font-size="15.2" textLength="238.6" lengthAdjust="spacingAndGlyphs" fill="#111" stroke="#111" stroke-width="0.3">elektromagnetischen Abschirmung</text>
</svg>
</body></html>
